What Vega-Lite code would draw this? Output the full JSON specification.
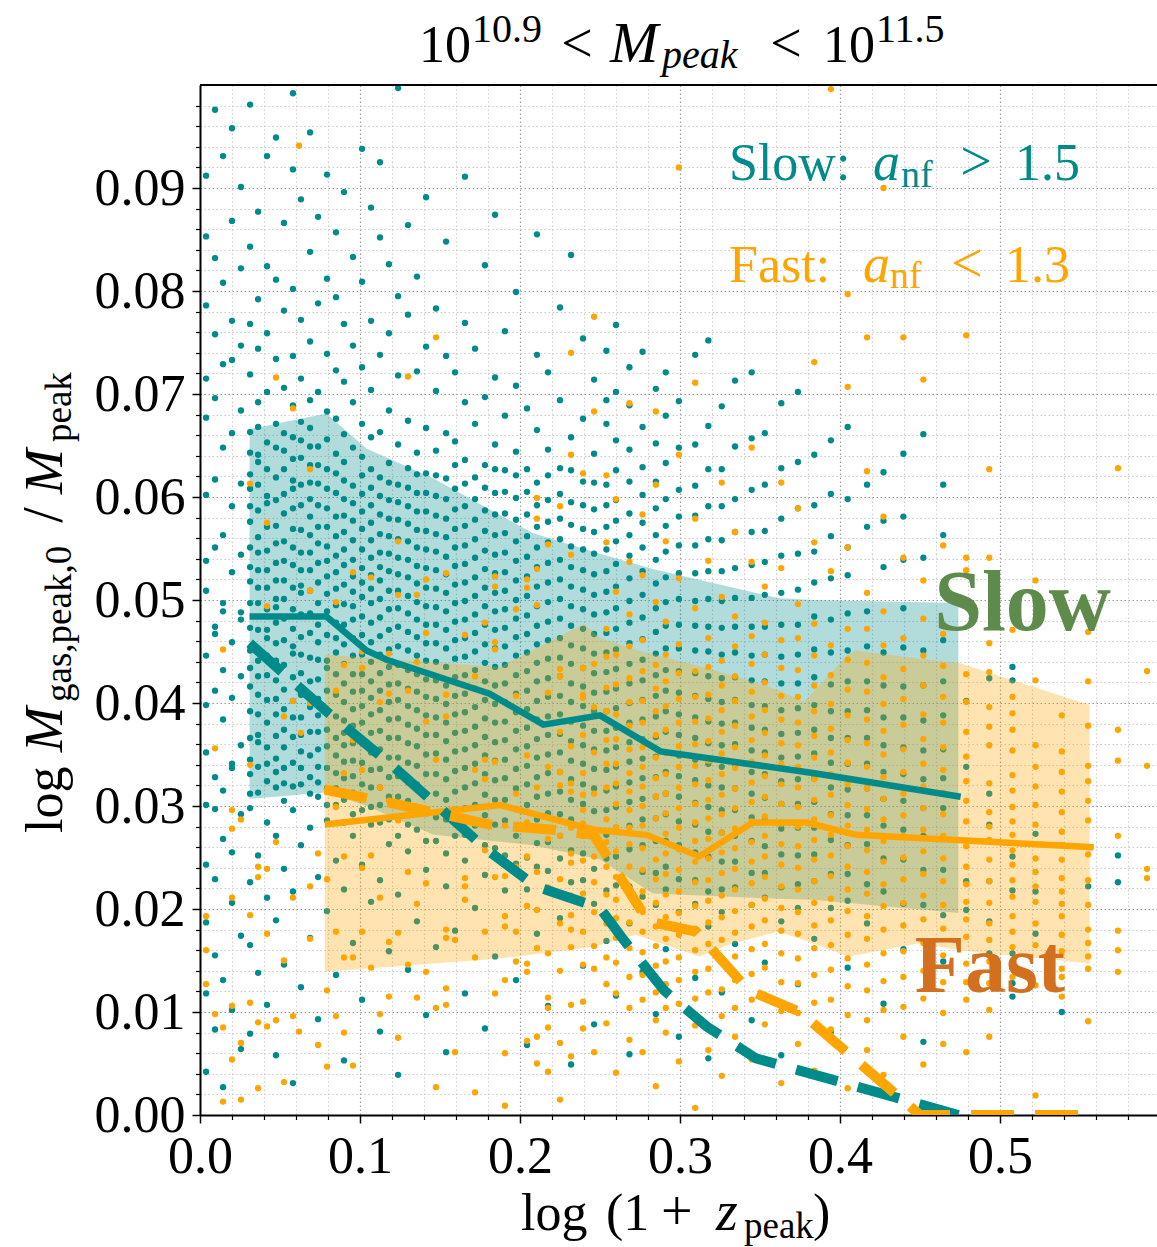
{
"$schema":"https://vega.github.io/schema/vega-lite/v6.json",
"width":957,"height":1030,
"autosize":{"type":"none"},
"padding":{"left":200,"top":85,"right":0,"bottom":132},
"background":"white",
"config":{"view":{"stroke":null},"font":"Liberation Serif"},
"resolve":{"axis":{"x":"independent","y":"independent"}},
"datasets":{
"one":[{}],
"slow":[
{"x":0.0038,"y":0.0042},{"x":0.0038,"y":0.0118},{"x":0.0038,"y":0.0187},{"x":0.0038,"y":0.0243},{"x":0.0038,"y":0.0301},{"x":0.0038,"y":0.0352},{"x":0.0038,"y":0.0398},{"x":0.0038,"y":0.0446},{"x":0.0038,"y":0.0509},{"x":0.0038,"y":0.0538},{"x":0.0038,"y":0.0602},{"x":0.0038,"y":0.0677},{"x":0.0038,"y":0.0715},{"x":0.0038,"y":0.0786},{"x":0.0038,"y":0.0853},{"x":0.0038,"y":0.0912},
{"x":0.0094,"y":0.0083},{"x":0.0094,"y":0.0155},{"x":0.0094,"y":0.0229},{"x":0.0094,"y":0.0297},{"x":0.0094,"y":0.0328},{"x":0.0094,"y":0.0412},{"x":0.0094,"y":0.0467},{"x":0.0094,"y":0.0474},{"x":0.0094,"y":0.0551},{"x":0.0094,"y":0.0617},{"x":0.0094,"y":0.0696},{"x":0.0094,"y":0.0758},{"x":0.0094,"y":0.0832},{"x":0.0094,"y":0.0976},
{"x":0.0144,"y":0.0027},{"x":0.0144,"y":0.0131},{"x":0.0144,"y":0.0268},{"x":0.0144,"y":0.0315},{"x":0.0144,"y":0.0384},{"x":0.0144,"y":0.0432},{"x":0.0144,"y":0.0489},{"x":0.0144,"y":0.0497},{"x":0.0144,"y":0.0563},{"x":0.0144,"y":0.0648},{"x":0.0144,"y":0.0729},{"x":0.0144,"y":0.0808},{"x":0.0144,"y":0.0931},
{"x":0.02,"y":0.0102},{"x":0.02,"y":0.0206},{"x":0.02,"y":0.0255},{"x":0.02,"y":0.0337},{"x":0.02,"y":0.0341},{"x":0.02,"y":0.0405},{"x":0.02,"y":0.0459},{"x":0.02,"y":0.0527},{"x":0.02,"y":0.0591},{"x":0.02,"y":0.0662},{"x":0.02,"y":0.0733},{"x":0.02,"y":0.0771},{"x":0.02,"y":0.0868},{"x":0.02,"y":0.0958},
{"x":0.0256,"y":0.0064},{"x":0.0256,"y":0.0174},{"x":0.0256,"y":0.0292},{"x":0.0256,"y":0.0359},{"x":0.0256,"y":0.0426},{"x":0.0256,"y":0.0481},{"x":0.0256,"y":0.0488},{"x":0.0256,"y":0.0544},{"x":0.0256,"y":0.0613},{"x":0.0256,"y":0.0684},{"x":0.0256,"y":0.0747},{"x":0.0256,"y":0.0822},{"x":0.0256,"y":0.0901},
{"x":0.0313,"y":0.0079},{"x":0.0313,"y":0.0165},{"x":0.0313,"y":0.0226},{"x":0.0313,"y":0.0298},{"x":0.0313,"y":0.0331},{"x":0.0313,"y":0.0345},{"x":0.0313,"y":0.0392},{"x":0.0313,"y":0.0416},{"x":0.0313,"y":0.0451},{"x":0.0313,"y":0.0473},{"x":0.0313,"y":0.0518},{"x":0.0313,"y":0.0532},{"x":0.0313,"y":0.0576},{"x":0.0313,"y":0.0608},{"x":0.0313,"y":0.0622},{"x":0.0313,"y":0.0663},{"x":0.0313,"y":0.0719},{"x":0.0313,"y":0.0768},{"x":0.0313,"y":0.0843},{"x":0.0313,"y":0.0981},
{"x":0.0363,"y":0.0138},{"x":0.0363,"y":0.0252},{"x":0.0363,"y":0.0313},{"x":0.0363,"y":0.0362},{"x":0.0363,"y":0.0369},{"x":0.0363,"y":0.0408},{"x":0.0363,"y":0.0441},{"x":0.0363,"y":0.0449},{"x":0.0363,"y":0.0497},{"x":0.0363,"y":0.0529},{"x":0.0363,"y":0.0561},{"x":0.0363,"y":0.0587},{"x":0.0363,"y":0.0634},{"x":0.0363,"y":0.0641},{"x":0.0363,"y":0.0692},{"x":0.0363,"y":0.0744},{"x":0.0363,"y":0.0792},{"x":0.0363,"y":0.0877},
{"x":0.0419,"y":0.0107},{"x":0.0419,"y":0.0211},{"x":0.0419,"y":0.0284},{"x":0.0419,"y":0.0324},{"x":0.0419,"y":0.0357},{"x":0.0419,"y":0.0381},{"x":0.0419,"y":0.0427},{"x":0.0419,"y":0.0463},{"x":0.0419,"y":0.0471},{"x":0.0419,"y":0.0512},{"x":0.0419,"y":0.0548},{"x":0.0419,"y":0.0594},{"x":0.0419,"y":0.0601},{"x":0.0419,"y":0.0653},{"x":0.0419,"y":0.0702},{"x":0.0419,"y":0.0759},{"x":0.0419,"y":0.0824},{"x":0.0419,"y":0.0931},
{"x":0.0475,"y":0.0058},{"x":0.0475,"y":0.0189},{"x":0.0475,"y":0.0271},{"x":0.0475,"y":0.0318},{"x":0.0475,"y":0.0346},{"x":0.0475,"y":0.0389},{"x":0.0475,"y":0.0422},{"x":0.0475,"y":0.0458},{"x":0.0475,"y":0.0493},{"x":0.0475,"y":0.0501},{"x":0.0475,"y":0.0536},{"x":0.0475,"y":0.0572},{"x":0.0475,"y":0.0619},{"x":0.0475,"y":0.0648},{"x":0.0475,"y":0.0671},{"x":0.0475,"y":0.0734},{"x":0.0475,"y":0.0811},{"x":0.0475,"y":0.0949},
{"x":0.0525,"y":0.0146},{"x":0.0525,"y":0.0239},{"x":0.0525,"y":0.0305},{"x":0.0525,"y":0.0337},{"x":0.0525,"y":0.0374},{"x":0.0525,"y":0.0413},{"x":0.0525,"y":0.0437},{"x":0.0525,"y":0.0482},{"x":0.0525,"y":0.0519},{"x":0.0525,"y":0.0557},{"x":0.0525,"y":0.0584},{"x":0.0525,"y":0.0627},{"x":0.0525,"y":0.0662},{"x":0.0525,"y":0.0706},{"x":0.0525,"y":0.0781},{"x":0.0525,"y":0.0866},
{"x":0.0581,"y":0.0031},{"x":0.0581,"y":0.0217},{"x":0.0581,"y":0.0296},{"x":0.0581,"y":0.0342},{"x":0.0581,"y":0.0367},{"x":0.0581,"y":0.0402},{"x":0.0581,"y":0.0448},{"x":0.0581,"y":0.0455},{"x":0.0581,"y":0.0491},{"x":0.0581,"y":0.0534},{"x":0.0581,"y":0.0569},{"x":0.0581,"y":0.0608},{"x":0.0581,"y":0.0616},{"x":0.0581,"y":0.0658},{"x":0.0581,"y":0.0689},{"x":0.0581,"y":0.0737},{"x":0.0581,"y":0.0802},{"x":0.0581,"y":0.0918},{"x":0.0581,"y":0.0992},
{"x":0.0631,"y":0.0124},{"x":0.0631,"y":0.0262},{"x":0.0631,"y":0.0321},{"x":0.0631,"y":0.0353},{"x":0.0631,"y":0.0386},{"x":0.0631,"y":0.0429},{"x":0.0631,"y":0.0464},{"x":0.0631,"y":0.0507},{"x":0.0631,"y":0.0514},{"x":0.0631,"y":0.0546},{"x":0.0631,"y":0.0592},{"x":0.0631,"y":0.0638},{"x":0.0631,"y":0.0673},{"x":0.0631,"y":0.0715},{"x":0.0631,"y":0.0772},{"x":0.0631,"y":0.0889},
{"x":0.0688,"y":0.0172},{"x":0.0688,"y":0.0279},{"x":0.0688,"y":0.0328},{"x":0.0688,"y":0.0349},{"x":0.0688,"y":0.0396},{"x":0.0688,"y":0.0421},{"x":0.0688,"y":0.0468},{"x":0.0688,"y":0.0487},{"x":0.0688,"y":0.0529},{"x":0.0688,"y":0.0563},{"x":0.0688,"y":0.0598},{"x":0.0688,"y":0.0631},{"x":0.0688,"y":0.0667},{"x":0.0688,"y":0.0694},{"x":0.0688,"y":0.0751},{"x":0.0688,"y":0.0838},{"x":0.0688,"y":0.0954},
{"x":0.0738,"y":0.0093},{"x":0.0738,"y":0.0231},{"x":0.0738,"y":0.0309},{"x":0.0738,"y":0.0338},{"x":0.0738,"y":0.0372},{"x":0.0738,"y":0.0404},{"x":0.0738,"y":0.0442},{"x":0.0738,"y":0.0476},{"x":0.0738,"y":0.0517},{"x":0.0738,"y":0.0555},{"x":0.0738,"y":0.0571},{"x":0.0738,"y":0.0613},{"x":0.0738,"y":0.0649},{"x":0.0738,"y":0.0702},{"x":0.0738,"y":0.0788},{"x":0.0738,"y":0.0872},
{"x":0.0794,"y":0.0198},{"x":0.0794,"y":0.0286},{"x":0.0794,"y":0.0317},{"x":0.0794,"y":0.0358},{"x":0.0794,"y":0.0391},{"x":0.0794,"y":0.0434},{"x":0.0794,"y":0.0441},{"x":0.0794,"y":0.0489},{"x":0.0794,"y":0.0523},{"x":0.0794,"y":0.0552},{"x":0.0794,"y":0.0589},{"x":0.0794,"y":0.0627},{"x":0.0794,"y":0.0656},{"x":0.0794,"y":0.0683},{"x":0.0794,"y":0.0739},{"x":0.0794,"y":0.0812},{"x":0.0794,"y":0.0913},
{"x":0.085,"y":0.0136},{"x":0.085,"y":0.0247},{"x":0.085,"y":0.0301},{"x":0.085,"y":0.0332},{"x":0.085,"y":0.0366},{"x":0.085,"y":0.0408},{"x":0.085,"y":0.0449},{"x":0.085,"y":0.0478},{"x":0.085,"y":0.0511},{"x":0.085,"y":0.0543},{"x":0.085,"y":0.0581},{"x":0.085,"y":0.0604},{"x":0.085,"y":0.0642},{"x":0.085,"y":0.0676},{"x":0.085,"y":0.0723},{"x":0.085,"y":0.0794},{"x":0.085,"y":0.0857},
{"x":0.09,"y":0.0053},{"x":0.09,"y":0.0219},{"x":0.09,"y":0.0284},{"x":0.09,"y":0.0327},{"x":0.09,"y":0.0359},{"x":0.09,"y":0.0383},{"x":0.09,"y":0.0419},{"x":0.09,"y":0.0457},{"x":0.09,"y":0.0496},{"x":0.09,"y":0.0534},{"x":0.09,"y":0.0566},{"x":0.09,"y":0.0598},{"x":0.09,"y":0.0634},{"x":0.09,"y":0.0661},{"x":0.09,"y":0.0712},{"x":0.09,"y":0.0768},{"x":0.09,"y":0.0896},
{"x":0.0956,"y":0.0167},{"x":0.0956,"y":0.0271},{"x":0.0956,"y":0.0313},{"x":0.0956,"y":0.0344},{"x":0.0956,"y":0.0378},{"x":0.0956,"y":0.0411},{"x":0.0956,"y":0.0446},{"x":0.0956,"y":0.0481},{"x":0.0956,"y":0.0508},{"x":0.0956,"y":0.0539},{"x":0.0956,"y":0.0577},{"x":0.0956,"y":0.0611},{"x":0.0956,"y":0.0648},{"x":0.0956,"y":0.0692},{"x":0.0956,"y":0.0747},{"x":0.0956,"y":0.0833},
{"x":0.1013,"y":0.0112},{"x":0.1013,"y":0.0243},{"x":0.1013,"y":0.0296},{"x":0.1013,"y":0.0321},{"x":0.1013,"y":0.0363},{"x":0.1013,"y":0.0397},{"x":0.1013,"y":0.0428},{"x":0.1013,"y":0.0466},{"x":0.1013,"y":0.0503},{"x":0.1013,"y":0.0531},{"x":0.1013,"y":0.0569},{"x":0.1013,"y":0.0603},{"x":0.1013,"y":0.0639},{"x":0.1013,"y":0.0671},{"x":0.1013,"y":0.0726},{"x":0.1013,"y":0.0809},{"x":0.1013,"y":0.0938},
{"x":0.1069,"y":0.0207},{"x":0.1069,"y":0.0282},{"x":0.1069,"y":0.0318},{"x":0.1069,"y":0.0352},{"x":0.1069,"y":0.0389},{"x":0.1069,"y":0.0421},{"x":0.1069,"y":0.0459},{"x":0.1069,"y":0.0497},{"x":0.1069,"y":0.0524},{"x":0.1069,"y":0.0558},{"x":0.1069,"y":0.0592},{"x":0.1069,"y":0.0627},{"x":0.1069,"y":0.0658},{"x":0.1069,"y":0.0704},{"x":0.1069,"y":0.0771},{"x":0.1069,"y":0.0881},
{"x":0.1125,"y":0.0081},{"x":0.1125,"y":0.0228},{"x":0.1125,"y":0.0301},{"x":0.1125,"y":0.0336},{"x":0.1125,"y":0.0373},{"x":0.1125,"y":0.0412},{"x":0.1125,"y":0.0447},{"x":0.1125,"y":0.0483},{"x":0.1125,"y":0.0519},{"x":0.1125,"y":0.0546},{"x":0.1125,"y":0.0583},{"x":0.1125,"y":0.0619},{"x":0.1125,"y":0.0663},{"x":0.1125,"y":0.0738},{"x":0.1125,"y":0.0852},{"x":0.1125,"y":0.0925},
{"x":0.1181,"y":0.0159},{"x":0.1181,"y":0.0263},{"x":0.1181,"y":0.0309},{"x":0.1181,"y":0.0347},{"x":0.1181,"y":0.0384},{"x":0.1181,"y":0.0418},{"x":0.1181,"y":0.0452},{"x":0.1181,"y":0.0491},{"x":0.1181,"y":0.0528},{"x":0.1181,"y":0.0562},{"x":0.1181,"y":0.0597},{"x":0.1181,"y":0.0633},{"x":0.1181,"y":0.0684},{"x":0.1181,"y":0.0759},{"x":0.1181,"y":0.0826},
{"x":0.1238,"y":0.0039},{"x":0.1238,"y":0.0214},{"x":0.1238,"y":0.0288},{"x":0.1238,"y":0.0329},{"x":0.1238,"y":0.0366},{"x":0.1238,"y":0.0403},{"x":0.1238,"y":0.0437},{"x":0.1238,"y":0.0474},{"x":0.1238,"y":0.0509},{"x":0.1238,"y":0.0541},{"x":0.1238,"y":0.0578},{"x":0.1238,"y":0.0612},{"x":0.1238,"y":0.0651},{"x":0.1238,"y":0.0718},{"x":0.1238,"y":0.0795},{"x":0.1238,"y":0.0997},
{"x":0.13,"y":0.0141},{"x":0.13,"y":0.0256},{"x":0.13,"y":0.0305},{"x":0.13,"y":0.0342},{"x":0.13,"y":0.0379},{"x":0.13,"y":0.0414},{"x":0.13,"y":0.0451},{"x":0.13,"y":0.0487},{"x":0.13,"y":0.0522},{"x":0.13,"y":0.0557},{"x":0.13,"y":0.0591},{"x":0.13,"y":0.0628},{"x":0.13,"y":0.0674},{"x":0.13,"y":0.0777},{"x":0.13,"y":0.0864},
{"x":0.1356,"y":0.0188},{"x":0.1356,"y":0.0277},{"x":0.1356,"y":0.0321},{"x":0.1356,"y":0.0358},{"x":0.1356,"y":0.0393},{"x":0.1356,"y":0.0428},{"x":0.1356,"y":0.0464},{"x":0.1356,"y":0.0498},{"x":0.1356,"y":0.0533},{"x":0.1356,"y":0.0568},{"x":0.1356,"y":0.0604},{"x":0.1356,"y":0.0643},{"x":0.1356,"y":0.0722},{"x":0.1356,"y":0.0814},
{"x":0.1413,"y":0.0097},{"x":0.1413,"y":0.0238},{"x":0.1413,"y":0.0293},{"x":0.1413,"y":0.0331},{"x":0.1413,"y":0.0369},{"x":0.1413,"y":0.0406},{"x":0.1413,"y":0.0441},{"x":0.1413,"y":0.0476},{"x":0.1413,"y":0.0512},{"x":0.1413,"y":0.0549},{"x":0.1413,"y":0.0586},{"x":0.1413,"y":0.0623},{"x":0.1413,"y":0.0667},{"x":0.1413,"y":0.0746},{"x":0.1413,"y":0.0891},
{"x":0.1475,"y":0.0163},{"x":0.1475,"y":0.0266},{"x":0.1475,"y":0.0312},{"x":0.1475,"y":0.0351},{"x":0.1475,"y":0.0386},{"x":0.1475,"y":0.0422},{"x":0.1475,"y":0.0458},{"x":0.1475,"y":0.0493},{"x":0.1475,"y":0.0529},{"x":0.1475,"y":0.0564},{"x":0.1475,"y":0.0601},{"x":0.1475,"y":0.0645},{"x":0.1475,"y":0.0703},{"x":0.1475,"y":0.0783},
{"x":0.1538,"y":0.0061},{"x":0.1538,"y":0.0222},{"x":0.1538,"y":0.0287},{"x":0.1538,"y":0.0326},{"x":0.1538,"y":0.0363},{"x":0.1538,"y":0.0399},{"x":0.1538,"y":0.0435},{"x":0.1538,"y":0.0471},{"x":0.1538,"y":0.0507},{"x":0.1538,"y":0.0542},{"x":0.1538,"y":0.0579},{"x":0.1538,"y":0.0618},{"x":0.1538,"y":0.0662},{"x":0.1538,"y":0.0737},{"x":0.1538,"y":0.0848},
{"x":0.1594,"y":0.0179},{"x":0.1594,"y":0.0271},{"x":0.1594,"y":0.0314},{"x":0.1594,"y":0.0353},{"x":0.1594,"y":0.0389},{"x":0.1594,"y":0.0425},{"x":0.1594,"y":0.0461},{"x":0.1594,"y":0.0497},{"x":0.1594,"y":0.0533},{"x":0.1594,"y":0.0569},{"x":0.1594,"y":0.0608},{"x":0.1594,"y":0.0654},{"x":0.1594,"y":0.0721},
{"x":0.1656,"y":0.0118},{"x":0.1656,"y":0.0247},{"x":0.1656,"y":0.0298},{"x":0.1656,"y":0.0337},{"x":0.1656,"y":0.0373},{"x":0.1656,"y":0.0409},{"x":0.1656,"y":0.0445},{"x":0.1656,"y":0.0481},{"x":0.1656,"y":0.0517},{"x":0.1656,"y":0.0553},{"x":0.1656,"y":0.0591},{"x":0.1656,"y":0.0636},{"x":0.1656,"y":0.0692},{"x":0.1656,"y":0.0769},{"x":0.1656,"y":0.0911},
{"x":0.1719,"y":0.0201},{"x":0.1719,"y":0.0281},{"x":0.1719,"y":0.0322},{"x":0.1719,"y":0.0359},{"x":0.1719,"y":0.0396},{"x":0.1719,"y":0.0432},{"x":0.1719,"y":0.0468},{"x":0.1719,"y":0.0504},{"x":0.1719,"y":0.0541},{"x":0.1719,"y":0.0578},{"x":0.1719,"y":0.0619},{"x":0.1719,"y":0.0671},{"x":0.1719,"y":0.0744},
{"x":0.1781,"y":0.0084},{"x":0.1781,"y":0.0233},{"x":0.1781,"y":0.0291},{"x":0.1781,"y":0.0331},{"x":0.1781,"y":0.0367},{"x":0.1781,"y":0.0403},{"x":0.1781,"y":0.0439},{"x":0.1781,"y":0.0476},{"x":0.1781,"y":0.0512},{"x":0.1781,"y":0.0548},{"x":0.1781,"y":0.0587},{"x":0.1781,"y":0.0631},{"x":0.1781,"y":0.0697},{"x":0.1781,"y":0.0825},
{"x":0.1844,"y":0.0154},{"x":0.1844,"y":0.0259},{"x":0.1844,"y":0.0306},{"x":0.1844,"y":0.0344},{"x":0.1844,"y":0.0381},{"x":0.1844,"y":0.0417},{"x":0.1844,"y":0.0453},{"x":0.1844,"y":0.0489},{"x":0.1844,"y":0.0526},{"x":0.1844,"y":0.0563},{"x":0.1844,"y":0.0604},{"x":0.1844,"y":0.0651},{"x":0.1844,"y":0.0716},{"x":0.1844,"y":0.0874},
{"x":0.1906,"y":0.0218},{"x":0.1906,"y":0.0286},{"x":0.1906,"y":0.0327},{"x":0.1906,"y":0.0364},{"x":0.1906,"y":0.0401},{"x":0.1906,"y":0.0437},{"x":0.1906,"y":0.0473},{"x":0.1906,"y":0.0509},{"x":0.1906,"y":0.0546},{"x":0.1906,"y":0.0584},{"x":0.1906,"y":0.0626},{"x":0.1906,"y":0.0679},{"x":0.1906,"y":0.0761},
{"x":0.1975,"y":0.0131},{"x":0.1975,"y":0.0244},{"x":0.1975,"y":0.0297},{"x":0.1975,"y":0.0336},{"x":0.1975,"y":0.0373},{"x":0.1975,"y":0.0409},{"x":0.1975,"y":0.0446},{"x":0.1975,"y":0.0482},{"x":0.1975,"y":0.0519},{"x":0.1975,"y":0.0557},{"x":0.1975,"y":0.0599},{"x":0.1975,"y":0.0644},{"x":0.1975,"y":0.0708},{"x":0.1975,"y":0.0799},
{"x":0.2044,"y":0.0068},{"x":0.2044,"y":0.0219},{"x":0.2044,"y":0.0281},{"x":0.2044,"y":0.0321},{"x":0.2044,"y":0.0358},{"x":0.2044,"y":0.0394},{"x":0.2044,"y":0.0431},{"x":0.2044,"y":0.0467},{"x":0.2044,"y":0.0504},{"x":0.2044,"y":0.0542},{"x":0.2044,"y":0.0583},{"x":0.2044,"y":0.0627},{"x":0.2044,"y":0.0686},
{"x":0.2106,"y":0.0176},{"x":0.2106,"y":0.0264},{"x":0.2106,"y":0.0309},{"x":0.2106,"y":0.0347},{"x":0.2106,"y":0.0384},{"x":0.2106,"y":0.0421},{"x":0.2106,"y":0.0457},{"x":0.2106,"y":0.0494},{"x":0.2106,"y":0.0532},{"x":0.2106,"y":0.0571},{"x":0.2106,"y":0.0614},{"x":0.2106,"y":0.0665},{"x":0.2106,"y":0.0738},{"x":0.2106,"y":0.0855},
{"x":0.2175,"y":0.0106},{"x":0.2175,"y":0.0237},{"x":0.2175,"y":0.0293},{"x":0.2175,"y":0.0332},{"x":0.2175,"y":0.0369},{"x":0.2175,"y":0.0406},{"x":0.2175,"y":0.0443},{"x":0.2175,"y":0.0479},{"x":0.2175,"y":0.0517},{"x":0.2175,"y":0.0556},{"x":0.2175,"y":0.0597},{"x":0.2175,"y":0.0646},{"x":0.2175,"y":0.0721},
{"x":0.225,"y":0.0191},{"x":0.225,"y":0.0271},{"x":0.225,"y":0.0314},{"x":0.225,"y":0.0352},{"x":0.225,"y":0.0389},{"x":0.225,"y":0.0426},{"x":0.225,"y":0.0463},{"x":0.225,"y":0.0501},{"x":0.225,"y":0.0539},{"x":0.225,"y":0.0579},{"x":0.225,"y":0.0628},{"x":0.225,"y":0.0694},{"x":0.225,"y":0.0784},
{"x":0.2319,"y":0.0049},{"x":0.2319,"y":0.0226},{"x":0.2319,"y":0.0287},{"x":0.2319,"y":0.0326},{"x":0.2319,"y":0.0363},{"x":0.2319,"y":0.0401},{"x":0.2319,"y":0.0438},{"x":0.2319,"y":0.0475},{"x":0.2319,"y":0.0513},{"x":0.2319,"y":0.0552},{"x":0.2319,"y":0.0595},{"x":0.2319,"y":0.0658},{"x":0.2319,"y":0.0835},
{"x":0.2394,"y":0.0145},{"x":0.2394,"y":0.0254},{"x":0.2394,"y":0.0302},{"x":0.2394,"y":0.0341},{"x":0.2394,"y":0.0378},{"x":0.2394,"y":0.0416},{"x":0.2394,"y":0.0453},{"x":0.2394,"y":0.0491},{"x":0.2394,"y":0.0529},{"x":0.2394,"y":0.0569},{"x":0.2394,"y":0.0615},{"x":0.2394,"y":0.0676},{"x":0.2394,"y":0.0754},
{"x":0.2463,"y":0.0088},{"x":0.2463,"y":0.0205},{"x":0.2463,"y":0.0273},{"x":0.2463,"y":0.0317},{"x":0.2463,"y":0.0355},{"x":0.2463,"y":0.0392},{"x":0.2463,"y":0.0429},{"x":0.2463,"y":0.0467},{"x":0.2463,"y":0.0505},{"x":0.2463,"y":0.0545},{"x":0.2463,"y":0.0588},{"x":0.2463,"y":0.0642},{"x":0.2463,"y":0.0714},
{"x":0.254,"y":0.0169},{"x":0.254,"y":0.0249},{"x":0.254,"y":0.0296},{"x":0.254,"y":0.0335},{"x":0.254,"y":0.0373},{"x":0.254,"y":0.0411},{"x":0.254,"y":0.0449},{"x":0.254,"y":0.0488},{"x":0.254,"y":0.0528},{"x":0.254,"y":0.0571},{"x":0.254,"y":0.0612},{"x":0.254,"y":0.0671},{"x":0.254,"y":0.0694},{"x":0.254,"y":0.0742},
{"x":0.26,"y":0.0116},{"x":0.26,"y":0.0223},{"x":0.26,"y":0.0279},{"x":0.26,"y":0.0319},{"x":0.26,"y":0.0357},{"x":0.26,"y":0.0395},{"x":0.26,"y":0.0433},{"x":0.26,"y":0.0472},{"x":0.26,"y":0.0513},{"x":0.26,"y":0.0557},{"x":0.26,"y":0.0597},{"x":0.26,"y":0.0655},{"x":0.26,"y":0.0702},{"x":0.26,"y":0.0767},
{"x":0.2684,"y":0.0059},{"x":0.2684,"y":0.0186},{"x":0.2684,"y":0.0258},{"x":0.2684,"y":0.0304},{"x":0.2684,"y":0.0343},{"x":0.2684,"y":0.0381},{"x":0.2684,"y":0.0419},{"x":0.2684,"y":0.0458},{"x":0.2684,"y":0.0499},{"x":0.2684,"y":0.0543},{"x":0.2684,"y":0.0584},{"x":0.2684,"y":0.0646},{"x":0.2684,"y":0.0689},{"x":0.2684,"y":0.0726},
{"x":0.2766,"y":0.0139},{"x":0.2766,"y":0.0236},{"x":0.2766,"y":0.0287},{"x":0.2766,"y":0.0327},{"x":0.2766,"y":0.0365},{"x":0.2766,"y":0.0403},{"x":0.2766,"y":0.0442},{"x":0.2766,"y":0.0483},{"x":0.2766,"y":0.0528},{"x":0.2766,"y":0.0575},{"x":0.2766,"y":0.0629},{"x":0.2766,"y":0.0668},{"x":0.2766,"y":0.0741},
{"x":0.2849,"y":0.0098},{"x":0.2849,"y":0.0204},{"x":0.2849,"y":0.0266},{"x":0.2849,"y":0.0309},{"x":0.2849,"y":0.0348},{"x":0.2849,"y":0.0387},{"x":0.2849,"y":0.0427},{"x":0.2849,"y":0.0469},{"x":0.2849,"y":0.0516},{"x":0.2849,"y":0.0563},{"x":0.2849,"y":0.0615},{"x":0.2849,"y":0.0652},{"x":0.2849,"y":0.0705},
{"x":0.2911,"y":0.0161},{"x":0.2911,"y":0.0241},{"x":0.2911,"y":0.0292},{"x":0.2911,"y":0.0333},{"x":0.2911,"y":0.0372},{"x":0.2911,"y":0.0412},{"x":0.2911,"y":0.0453},{"x":0.2911,"y":0.0498},{"x":0.2911,"y":0.0547},{"x":0.2911,"y":0.0598},{"x":0.2911,"y":0.0633},{"x":0.2911,"y":0.0679},{"x":0.2911,"y":0.0721},
{"x":0.2993,"y":0.0076},{"x":0.2993,"y":0.0197},{"x":0.2993,"y":0.0262},{"x":0.2993,"y":0.0309},{"x":0.2993,"y":0.0349},{"x":0.2993,"y":0.0389},{"x":0.2993,"y":0.0431},{"x":0.2993,"y":0.0476},{"x":0.2993,"y":0.0526},{"x":0.2993,"y":0.0581},{"x":0.2993,"y":0.0607},{"x":0.2993,"y":0.0648},{"x":0.2993,"y":0.0693},
{"x":0.3095,"y":0.0133},{"x":0.3095,"y":0.0228},{"x":0.3095,"y":0.0282},{"x":0.3095,"y":0.0325},{"x":0.3095,"y":0.0366},{"x":0.3095,"y":0.0407},{"x":0.3095,"y":0.0451},{"x":0.3095,"y":0.0499},{"x":0.3095,"y":0.0553},{"x":0.3095,"y":0.0611},{"x":0.3095,"y":0.0651},{"x":0.3095,"y":0.0738},
{"x":0.3177,"y":0.0055},{"x":0.3177,"y":0.0183},{"x":0.3177,"y":0.0251},{"x":0.3177,"y":0.0299},{"x":0.3177,"y":0.0341},{"x":0.3177,"y":0.0382},{"x":0.3177,"y":0.0426},{"x":0.3177,"y":0.0474},{"x":0.3177,"y":0.0528},{"x":0.3177,"y":0.0591},{"x":0.3177,"y":0.0627},{"x":0.3177,"y":0.0669},{"x":0.3177,"y":0.0752},
{"x":0.3261,"y":0.0119},{"x":0.3261,"y":0.0219},{"x":0.3261,"y":0.0274},{"x":0.3261,"y":0.0318},{"x":0.3261,"y":0.0359},{"x":0.3261,"y":0.0401},{"x":0.3261,"y":0.0447},{"x":0.3261,"y":0.0499},{"x":0.3261,"y":0.0558},{"x":0.3261,"y":0.0591},{"x":0.3261,"y":0.0627},{"x":0.3261,"y":0.0688},
{"x":0.3344,"y":0.0166},{"x":0.3344,"y":0.0246},{"x":0.3344,"y":0.0296},{"x":0.3344,"y":0.0339},{"x":0.3344,"y":0.0381},{"x":0.3344,"y":0.0425},{"x":0.3344,"y":0.0474},{"x":0.3344,"y":0.0531},{"x":0.3344,"y":0.0566},{"x":0.3344,"y":0.0598},{"x":0.3344,"y":0.0649},{"x":0.3344,"y":0.0713},
{"x":0.3448,"y":0.0092},{"x":0.3448,"y":0.0204},{"x":0.3448,"y":0.0266},{"x":0.3448,"y":0.0312},{"x":0.3448,"y":0.0354},{"x":0.3448,"y":0.0398},{"x":0.3448,"y":0.0446},{"x":0.3448,"y":0.0502},{"x":0.3448,"y":0.0566},{"x":0.3448,"y":0.0607},{"x":0.3448,"y":0.0657},{"x":0.3448,"y":0.0721},
{"x":0.353,"y":0.0148},{"x":0.353,"y":0.0235},{"x":0.353,"y":0.0286},{"x":0.353,"y":0.0331},{"x":0.353,"y":0.0374},{"x":0.353,"y":0.0421},{"x":0.353,"y":0.0474},{"x":0.353,"y":0.0537},{"x":0.353,"y":0.0567},{"x":0.353,"y":0.0612},{"x":0.353,"y":0.0662},
{"x":0.3633,"y":0.0058},{"x":0.3633,"y":0.0188},{"x":0.3633,"y":0.0253},{"x":0.3633,"y":0.0302},{"x":0.3633,"y":0.0347},{"x":0.3633,"y":0.0393},{"x":0.3633,"y":0.0445},{"x":0.3633,"y":0.0507},{"x":0.3633,"y":0.0579},{"x":0.3633,"y":0.0628},{"x":0.3633,"y":0.0691},
{"x":0.3737,"y":0.0127},{"x":0.3737,"y":0.0224},{"x":0.3737,"y":0.0279},{"x":0.3737,"y":0.0326},{"x":0.3737,"y":0.0371},{"x":0.3737,"y":0.0419},{"x":0.3737,"y":0.0476},{"x":0.3737,"y":0.0545},{"x":0.3737,"y":0.0589},{"x":0.3737,"y":0.0634},{"x":0.3737,"y":0.0702},
{"x":0.3839,"y":0.0171},{"x":0.3839,"y":0.0253},{"x":0.3839,"y":0.0304},{"x":0.3839,"y":0.0351},{"x":0.3839,"y":0.0398},{"x":0.3839,"y":0.0452},{"x":0.3839,"y":0.0517},{"x":0.3839,"y":0.0547},{"x":0.3839,"y":0.0592},{"x":0.3839,"y":0.0641},
{"x":0.3943,"y":0.0081},{"x":0.3943,"y":0.0201},{"x":0.3943,"y":0.0267},{"x":0.3943,"y":0.0318},{"x":0.3943,"y":0.0366},{"x":0.3943,"y":0.0418},{"x":0.3943,"y":0.0481},{"x":0.3943,"y":0.0562},{"x":0.3943,"y":0.0603},{"x":0.3943,"y":0.0655},
{"x":0.4048,"y":0.0143},{"x":0.4048,"y":0.0234},{"x":0.4048,"y":0.0291},{"x":0.4048,"y":0.0341},{"x":0.4048,"y":0.0392},{"x":0.4048,"y":0.0451},{"x":0.4048,"y":0.0524},{"x":0.4048,"y":0.0551},{"x":0.4048,"y":0.0598},{"x":0.4048,"y":0.0668},
{"x":0.4169,"y":0.0186},{"x":0.4169,"y":0.0263},{"x":0.4169,"y":0.0317},{"x":0.4169,"y":0.0366},{"x":0.4169,"y":0.0421},{"x":0.4169,"y":0.0489},{"x":0.4169,"y":0.0571},{"x":0.4169,"y":0.0612},
{"x":0.4272,"y":0.0108},{"x":0.4272,"y":0.0217},{"x":0.4272,"y":0.0281},{"x":0.4272,"y":0.0333},{"x":0.4272,"y":0.0386},{"x":0.4272,"y":0.0449},{"x":0.4272,"y":0.0532},{"x":0.4272,"y":0.0577},{"x":0.4272,"y":0.0624},
{"x":0.4396,"y":0.0161},{"x":0.4396,"y":0.0248},{"x":0.4396,"y":0.0305},{"x":0.4396,"y":0.0357},{"x":0.4396,"y":0.0416},{"x":0.4396,"y":0.0492},{"x":0.4396,"y":0.0539},{"x":0.4396,"y":0.0581},{"x":0.4396,"y":0.0642},
{"x":0.4521,"y":0.0071},{"x":0.4521,"y":0.0204},{"x":0.4521,"y":0.0271},{"x":0.4521,"y":0.0326},{"x":0.4521,"y":0.0383},{"x":0.4521,"y":0.0451},{"x":0.4521,"y":0.0541},{"x":0.4521,"y":0.0661},
{"x":0.4645,"y":0.0149},{"x":0.4645,"y":0.0238},{"x":0.4645,"y":0.0298},{"x":0.4645,"y":0.0355},{"x":0.4645,"y":0.0421},{"x":0.4645,"y":0.0506},{"x":0.4645,"y":0.0563},{"x":0.4645,"y":0.0612},
{"x":0.4789,"y":0.0338},{"x":0.4789,"y":0.0227},{"x":0.4789,"y":0.0199},{"x":0.4789,"y":0.0402},
{"x":0.4933,"y":0.0312},{"x":0.4933,"y":0.0282},{"x":0.4933,"y":0.0227},{"x":0.4933,"y":0.0188},{"x":0.4933,"y":0.0157},{"x":0.4933,"y":0.0424},
{"x":0.5078,"y":0.0251},{"x":0.5078,"y":0.0218},{"x":0.5078,"y":0.0157},{"x":0.5078,"y":0.0128},{"x":0.5078,"y":0.0115},{"x":0.5078,"y":0.0435},{"x":0.5078,"y":0.0422},
{"x":0.5222,"y":0.0273},{"x":0.5222,"y":0.0217},{"x":0.5222,"y":0.0176},
{"x":0.5386,"y":0.01},{"x":0.5551,"y":0.0222},{"x":0.5737,"y":0.0252},{"x":0.5737,"y":0.0226},
{"x":0.0313,"y":0.0312},{"x":0.0313,"y":0.0366},{"x":0.0313,"y":0.0434},{"x":0.0313,"y":0.0497},{"x":0.0313,"y":0.0551},{"x":0.0313,"y":0.0591},{"x":0.0313,"y":0.0643},
{"x":0.0363,"y":0.0338},{"x":0.0363,"y":0.0389},{"x":0.0363,"y":0.0426},{"x":0.0363,"y":0.0471},{"x":0.0363,"y":0.0512},{"x":0.0363,"y":0.0546},{"x":0.0363,"y":0.0612},{"x":0.0363,"y":0.0668},
{"x":0.0419,"y":0.0341},{"x":0.0419,"y":0.0403},{"x":0.0419,"y":0.0446},{"x":0.0419,"y":0.0491},{"x":0.0419,"y":0.0529},{"x":0.0419,"y":0.0571},{"x":0.0419,"y":0.0627},
{"x":0.0475,"y":0.0333},{"x":0.0475,"y":0.0368},{"x":0.0475,"y":0.0404},{"x":0.0475,"y":0.0441},{"x":0.0475,"y":0.0478},{"x":0.0475,"y":0.0519},{"x":0.0475,"y":0.0555},{"x":0.0475,"y":0.0597},
{"x":0.0525,"y":0.0322},{"x":0.0525,"y":0.0357},{"x":0.0525,"y":0.0394},{"x":0.0525,"y":0.0461},{"x":0.0525,"y":0.0501},{"x":0.0525,"y":0.0538},{"x":0.0525,"y":0.0603},{"x":0.0525,"y":0.0645},
{"x":0.0581,"y":0.0319},{"x":0.0581,"y":0.0386},{"x":0.0581,"y":0.0425},{"x":0.0581,"y":0.0472},{"x":0.0581,"y":0.0512},{"x":0.0581,"y":0.0551},{"x":0.0581,"y":0.0589},{"x":0.0581,"y":0.0637},
{"x":0.0631,"y":0.0337},{"x":0.0631,"y":0.0369},{"x":0.0631,"y":0.0408},{"x":0.0631,"y":0.0447},{"x":0.0631,"y":0.0486},{"x":0.0631,"y":0.0529},{"x":0.0631,"y":0.0568},{"x":0.0631,"y":0.0612},{"x":0.0631,"y":0.0655},
{"x":0.0688,"y":0.0312},{"x":0.0688,"y":0.0372},{"x":0.0688,"y":0.0444},{"x":0.0688,"y":0.0509},{"x":0.0688,"y":0.0546},{"x":0.0688,"y":0.0581},{"x":0.0688,"y":0.0614},{"x":0.0688,"y":0.0649},
{"x":0.0738,"y":0.0323},{"x":0.0738,"y":0.0355},{"x":0.0738,"y":0.0388},{"x":0.0738,"y":0.0423},{"x":0.0738,"y":0.0459},{"x":0.0738,"y":0.0497},{"x":0.0738,"y":0.0536},{"x":0.0738,"y":0.0592},{"x":0.0738,"y":0.0631},
{"x":0.0794,"y":0.0301},{"x":0.0794,"y":0.0337},{"x":0.0794,"y":0.0374},{"x":0.0794,"y":0.0412},{"x":0.0794,"y":0.0466},{"x":0.0794,"y":0.0506},{"x":0.0794,"y":0.0538},{"x":0.0794,"y":0.0571},{"x":0.0794,"y":0.0608},
{"x":0.085,"y":0.0317},{"x":0.085,"y":0.0349},{"x":0.085,"y":0.0387},{"x":0.085,"y":0.0428},{"x":0.085,"y":0.0463},{"x":0.085,"y":0.0495},{"x":0.085,"y":0.0527},{"x":0.085,"y":0.0562},{"x":0.085,"y":0.0623},
{"x":0.09,"y":0.0306},{"x":0.09,"y":0.0343},{"x":0.09,"y":0.0371},{"x":0.09,"y":0.0401},{"x":0.09,"y":0.0438},{"x":0.09,"y":0.0476},{"x":0.09,"y":0.0515},{"x":0.09,"y":0.0549},{"x":0.09,"y":0.0582},{"x":0.09,"y":0.0616},
{"x":0.0956,"y":0.0292},{"x":0.0956,"y":0.0329},{"x":0.0956,"y":0.0361},{"x":0.0956,"y":0.0394},{"x":0.0956,"y":0.0428},{"x":0.0956,"y":0.0463},{"x":0.0956,"y":0.0494},{"x":0.0956,"y":0.0523},{"x":0.0956,"y":0.0558},{"x":0.0956,"y":0.0594},
{"x":0.1013,"y":0.0309},{"x":0.1013,"y":0.0342},{"x":0.1013,"y":0.0381},{"x":0.1013,"y":0.0412},{"x":0.1013,"y":0.0447},{"x":0.1013,"y":0.0484},{"x":0.1013,"y":0.0517},{"x":0.1013,"y":0.0549},{"x":0.1013,"y":0.0586},{"x":0.1013,"y":0.0621},
{"x":0.1069,"y":0.0299},{"x":0.1069,"y":0.0335},{"x":0.1069,"y":0.0371},{"x":0.1069,"y":0.0405},{"x":0.1069,"y":0.044},{"x":0.1069,"y":0.0478},{"x":0.1069,"y":0.0511},{"x":0.1069,"y":0.0541},{"x":0.1069,"y":0.0575},{"x":0.1069,"y":0.0609},
{"x":0.1125,"y":0.0284},{"x":0.1125,"y":0.0318},{"x":0.1125,"y":0.0355},{"x":0.1125,"y":0.0393},{"x":0.1125,"y":0.0429},{"x":0.1125,"y":0.0465},{"x":0.1125,"y":0.0501},{"x":0.1125,"y":0.0532},{"x":0.1125,"y":0.0564},{"x":0.1125,"y":0.0601},
{"x":0.1181,"y":0.0287},{"x":0.1181,"y":0.0328},{"x":0.1181,"y":0.0366},{"x":0.1181,"y":0.0401},{"x":0.1181,"y":0.0435},{"x":0.1181,"y":0.0471},{"x":0.1181,"y":0.0509},{"x":0.1181,"y":0.0545},{"x":0.1181,"y":0.0579},{"x":0.1181,"y":0.0614},
{"x":0.1238,"y":0.0271},{"x":0.1238,"y":0.0309},{"x":0.1238,"y":0.0347},{"x":0.1238,"y":0.0385},{"x":0.1238,"y":0.0419},{"x":0.1238,"y":0.0455},{"x":0.1238,"y":0.0492},{"x":0.1238,"y":0.0525},{"x":0.1238,"y":0.0559},{"x":0.1238,"y":0.0595},
{"x":0.13,"y":0.0282},{"x":0.13,"y":0.0323},{"x":0.13,"y":0.0361},{"x":0.13,"y":0.0397},{"x":0.13,"y":0.0432},{"x":0.13,"y":0.0469},{"x":0.13,"y":0.0504},{"x":0.13,"y":0.0539},{"x":0.13,"y":0.0574},{"x":0.13,"y":0.0609},
{"x":0.1356,"y":0.0299},{"x":0.1356,"y":0.0339},{"x":0.1356,"y":0.0375},{"x":0.1356,"y":0.0411},{"x":0.1356,"y":0.0446},{"x":0.1356,"y":0.0481},{"x":0.1356,"y":0.0516},{"x":0.1356,"y":0.0551},{"x":0.1356,"y":0.0586},{"x":0.1356,"y":0.0622},
{"x":0.1413,"y":0.0266},{"x":0.1413,"y":0.0312},{"x":0.1413,"y":0.035},{"x":0.1413,"y":0.0388},{"x":0.1413,"y":0.0423},{"x":0.1413,"y":0.0458},{"x":0.1413,"y":0.0494},{"x":0.1413,"y":0.0531},{"x":0.1413,"y":0.0567},{"x":0.1413,"y":0.0604},
{"x":0.1475,"y":0.0289},{"x":0.1475,"y":0.0331},{"x":0.1475,"y":0.0369},{"x":0.1475,"y":0.0404},{"x":0.1475,"y":0.044},{"x":0.1475,"y":0.0476},{"x":0.1475,"y":0.0511},{"x":0.1475,"y":0.0547},{"x":0.1475,"y":0.0582},{"x":0.1475,"y":0.0621},
{"x":0.1538,"y":0.0254},{"x":0.1538,"y":0.0306},{"x":0.1538,"y":0.0345},{"x":0.1538,"y":0.0381},{"x":0.1538,"y":0.0417},{"x":0.1538,"y":0.0453},{"x":0.1538,"y":0.0489},{"x":0.1538,"y":0.0525},{"x":0.1538,"y":0.0561},{"x":0.1538,"y":0.0598},
{"x":0.1594,"y":0.0293},{"x":0.1594,"y":0.0334},{"x":0.1594,"y":0.0371},{"x":0.1594,"y":0.0407},{"x":0.1594,"y":0.0443},{"x":0.1594,"y":0.0479},{"x":0.1594,"y":0.0515},{"x":0.1594,"y":0.0551},{"x":0.1594,"y":0.0588},{"x":0.1594,"y":0.0631},
{"x":0.1656,"y":0.0272},{"x":0.1656,"y":0.0318},{"x":0.1656,"y":0.0355},{"x":0.1656,"y":0.0391},{"x":0.1656,"y":0.0427},{"x":0.1656,"y":0.0463},{"x":0.1656,"y":0.0499},{"x":0.1656,"y":0.0535},{"x":0.1656,"y":0.0572},{"x":0.1656,"y":0.0613},
{"x":0.1719,"y":0.0301},{"x":0.1719,"y":0.0341},{"x":0.1719,"y":0.0377},{"x":0.1719,"y":0.0414},{"x":0.1719,"y":0.045},{"x":0.1719,"y":0.0486},{"x":0.1719,"y":0.0522},{"x":0.1719,"y":0.0559},{"x":0.1719,"y":0.0598},
{"x":0.1781,"y":0.0262},{"x":0.1781,"y":0.0311},{"x":0.1781,"y":0.0349},{"x":0.1781,"y":0.0385},{"x":0.1781,"y":0.0421},{"x":0.1781,"y":0.0457},{"x":0.1781,"y":0.0494},{"x":0.1781,"y":0.053},{"x":0.1781,"y":0.0567},{"x":0.1781,"y":0.0609},
{"x":0.1844,"y":0.0282},{"x":0.1844,"y":0.0325},{"x":0.1844,"y":0.0362},{"x":0.1844,"y":0.0399},{"x":0.1844,"y":0.0435},{"x":0.1844,"y":0.0471},{"x":0.1844,"y":0.0507},{"x":0.1844,"y":0.0544},{"x":0.1844,"y":0.0583},{"x":0.1844,"y":0.0627},
{"x":0.1906,"y":0.0252},{"x":0.1906,"y":0.0306},{"x":0.1906,"y":0.0345},{"x":0.1906,"y":0.0382},{"x":0.1906,"y":0.0419},{"x":0.1906,"y":0.0455},{"x":0.1906,"y":0.0491},{"x":0.1906,"y":0.0527},{"x":0.1906,"y":0.0565},{"x":0.1906,"y":0.0605},
{"x":0.1975,"y":0.0271},{"x":0.1975,"y":0.0317},{"x":0.1975,"y":0.0355},{"x":0.1975,"y":0.0391},{"x":0.1975,"y":0.0427},{"x":0.1975,"y":0.0464},{"x":0.1975,"y":0.05},{"x":0.1975,"y":0.0538},{"x":0.1975,"y":0.0578},{"x":0.1975,"y":0.0621},
{"x":0.2044,"y":0.025},{"x":0.2044,"y":0.0301},{"x":0.2044,"y":0.0339},{"x":0.2044,"y":0.0376},{"x":0.2044,"y":0.0412},{"x":0.2044,"y":0.0449},{"x":0.2044,"y":0.0485},{"x":0.2044,"y":0.0523},{"x":0.2044,"y":0.0562},{"x":0.2044,"y":0.0605},
{"x":0.2106,"y":0.0241},{"x":0.2106,"y":0.0287},{"x":0.2106,"y":0.0328},{"x":0.2106,"y":0.0365},{"x":0.2106,"y":0.0402},{"x":0.2106,"y":0.0439},{"x":0.2106,"y":0.0475},{"x":0.2106,"y":0.0513},{"x":0.2106,"y":0.0551},{"x":0.2106,"y":0.0592},
{"x":0.2175,"y":0.0265},{"x":0.2175,"y":0.0312},{"x":0.2175,"y":0.035},{"x":0.2175,"y":0.0387},{"x":0.2175,"y":0.0424},{"x":0.2175,"y":0.0461},{"x":0.2175,"y":0.0498},{"x":0.2175,"y":0.0536},{"x":0.2175,"y":0.0576},{"x":0.2175,"y":0.0621},
{"x":0.225,"y":0.0249},{"x":0.225,"y":0.0292},{"x":0.225,"y":0.0333},{"x":0.225,"y":0.037},{"x":0.225,"y":0.0407},{"x":0.225,"y":0.0444},{"x":0.225,"y":0.0482},{"x":0.225,"y":0.052},{"x":0.225,"y":0.0559},{"x":0.225,"y":0.0603},
{"x":0.2319,"y":0.0257},{"x":0.2319,"y":0.0306},{"x":0.2319,"y":0.0344},{"x":0.2319,"y":0.0382},{"x":0.2319,"y":0.0419},{"x":0.2319,"y":0.0456},{"x":0.2319,"y":0.0494},{"x":0.2319,"y":0.0532},{"x":0.2319,"y":0.0573},{"x":0.2319,"y":0.0626},
{"x":0.2394,"y":0.0228},{"x":0.2394,"y":0.0278},{"x":0.2394,"y":0.0321},{"x":0.2394,"y":0.0359},{"x":0.2394,"y":0.0397},{"x":0.2394,"y":0.0434},{"x":0.2394,"y":0.0472},{"x":0.2394,"y":0.051},{"x":0.2394,"y":0.0549},{"x":0.2394,"y":0.0592},
{"x":0.2463,"y":0.0239},{"x":0.2463,"y":0.0295},{"x":0.2463,"y":0.0336},{"x":0.2463,"y":0.0373},{"x":0.2463,"y":0.041},{"x":0.2463,"y":0.0448},{"x":0.2463,"y":0.0486},{"x":0.2463,"y":0.0525},{"x":0.2463,"y":0.0566},{"x":0.2463,"y":0.0614},
{"x":0.254,"y":0.0218},{"x":0.254,"y":0.0272},{"x":0.254,"y":0.0315},{"x":0.254,"y":0.0354},{"x":0.254,"y":0.0392},{"x":0.254,"y":0.043},{"x":0.254,"y":0.0468},{"x":0.254,"y":0.0508},{"x":0.254,"y":0.0549},{"x":0.254,"y":0.0592},
{"x":0.26,"y":0.0251},{"x":0.26,"y":0.0299},{"x":0.26,"y":0.0338},{"x":0.26,"y":0.0376},{"x":0.26,"y":0.0414},{"x":0.26,"y":0.0452},{"x":0.26,"y":0.0492},{"x":0.26,"y":0.0535},{"x":0.26,"y":0.0577},{"x":0.26,"y":0.0626},
{"x":0.2684,"y":0.0222},{"x":0.2684,"y":0.0281},{"x":0.2684,"y":0.0323},{"x":0.2684,"y":0.0362},{"x":0.2684,"y":0.04},{"x":0.2684,"y":0.0438},{"x":0.2684,"y":0.0478},{"x":0.2684,"y":0.0521},{"x":0.2684,"y":0.0563},{"x":0.2684,"y":0.0615},
{"x":0.2766,"y":0.0212},{"x":0.2766,"y":0.0262},{"x":0.2766,"y":0.0307},{"x":0.2766,"y":0.0346},{"x":0.2766,"y":0.0384},{"x":0.2766,"y":0.0422},{"x":0.2766,"y":0.0462},{"x":0.2766,"y":0.0505},{"x":0.2766,"y":0.0551},{"x":0.2766,"y":0.0602},
{"x":0.2849,"y":0.0235},{"x":0.2849,"y":0.0288},{"x":0.2849,"y":0.0328},{"x":0.2849,"y":0.0367},{"x":0.2849,"y":0.0407},{"x":0.2849,"y":0.0448},{"x":0.2849,"y":0.0492},{"x":0.2849,"y":0.0539},{"x":0.2849,"y":0.0589},
{"x":0.2911,"y":0.0219},{"x":0.2911,"y":0.0266},{"x":0.2911,"y":0.0312},{"x":0.2911,"y":0.0352},{"x":0.2911,"y":0.0392},{"x":0.2911,"y":0.0432},{"x":0.2911,"y":0.0475},{"x":0.2911,"y":0.0522},{"x":0.2911,"y":0.0572},
{"x":0.2993,"y":0.0229},{"x":0.2993,"y":0.0285},{"x":0.2993,"y":0.0329},{"x":0.2993,"y":0.0369},{"x":0.2993,"y":0.041},{"x":0.2993,"y":0.0453},{"x":0.2993,"y":0.0501},{"x":0.2993,"y":0.0553},
{"x":0.3095,"y":0.0205},{"x":0.3095,"y":0.0255},{"x":0.3095,"y":0.0303},{"x":0.3095,"y":0.0345},{"x":0.3095,"y":0.0386},{"x":0.3095,"y":0.0429},{"x":0.3095,"y":0.0475},{"x":0.3095,"y":0.0526},{"x":0.3095,"y":0.0582},
{"x":0.3177,"y":0.0217},{"x":0.3177,"y":0.0275},{"x":0.3177,"y":0.032},{"x":0.3177,"y":0.0361},{"x":0.3177,"y":0.0404},{"x":0.3177,"y":0.045},{"x":0.3177,"y":0.0501},{"x":0.3177,"y":0.0559},
{"x":0.3261,"y":0.0197},{"x":0.3261,"y":0.0246},{"x":0.3261,"y":0.0296},{"x":0.3261,"y":0.0338},{"x":0.3261,"y":0.038},{"x":0.3261,"y":0.0424},{"x":0.3261,"y":0.0473},{"x":0.3261,"y":0.0528},
{"x":0.3344,"y":0.0221},{"x":0.3344,"y":0.0271},{"x":0.3344,"y":0.0317},{"x":0.3344,"y":0.036},{"x":0.3344,"y":0.0403},{"x":0.3344,"y":0.0449},{"x":0.3344,"y":0.0502},
{"x":0.3448,"y":0.0235},{"x":0.3448,"y":0.0289},{"x":0.3448,"y":0.0333},{"x":0.3448,"y":0.0376},{"x":0.3448,"y":0.0422},{"x":0.3448,"y":0.0474},{"x":0.3448,"y":0.0534},
{"x":0.353,"y":0.0211},{"x":0.353,"y":0.0261},{"x":0.353,"y":0.0308},{"x":0.353,"y":0.0352},{"x":0.353,"y":0.0397},{"x":0.353,"y":0.0447},{"x":0.353,"y":0.0505},
{"x":0.3633,"y":0.0221},{"x":0.3633,"y":0.0278},{"x":0.3633,"y":0.0324},{"x":0.3633,"y":0.037},{"x":0.3633,"y":0.0419},{"x":0.3633,"y":0.0476},{"x":0.3633,"y":0.0543},
{"x":0.3737,"y":0.0201},{"x":0.3737,"y":0.0252},{"x":0.3737,"y":0.0302},{"x":0.3737,"y":0.0348},{"x":0.3737,"y":0.0395},{"x":0.3737,"y":0.0447},{"x":0.3737,"y":0.051},
{"x":0.3839,"y":0.0227},{"x":0.3839,"y":0.0279},{"x":0.3839,"y":0.0327},{"x":0.3839,"y":0.0374},{"x":0.3839,"y":0.0425},{"x":0.3839,"y":0.0484},
{"x":0.3943,"y":0.0234},{"x":0.3943,"y":0.0292},{"x":0.3943,"y":0.0342},{"x":0.3943,"y":0.0392},{"x":0.3943,"y":0.0449},{"x":0.3943,"y":0.0521},
{"x":0.4048,"y":0.0208},{"x":0.4048,"y":0.0262},{"x":0.4048,"y":0.0316},{"x":0.4048,"y":0.0366},{"x":0.4048,"y":0.0421},{"x":0.4048,"y":0.0487},
{"x":0.4169,"y":0.0224},{"x":0.4169,"y":0.0291},{"x":0.4169,"y":0.0341},{"x":0.4169,"y":0.0393},{"x":0.4169,"y":0.0455},
{"x":0.4272,"y":0.0249},{"x":0.4272,"y":0.0307},{"x":0.4272,"y":0.0359},{"x":0.4272,"y":0.0417},
{"x":0.4396,"y":0.0205},{"x":0.4396,"y":0.0277},{"x":0.4396,"y":0.0331},{"x":0.4396,"y":0.0386},{"x":0.4396,"y":0.0454},
{"x":0.4521,"y":0.0238},{"x":0.4521,"y":0.0298},{"x":0.4521,"y":0.0354},{"x":0.4521,"y":0.0417},
{"x":0.4645,"y":0.0194},{"x":0.4645,"y":0.0268},{"x":0.4645,"y":0.0327},{"x":0.4645,"y":0.0388},{"x":0.4645,"y":0.0461}
],
"fast":[
{"x":0.0038,"y":0.0193},{"x":0.0038,"y":0.0127},{"x":0.0038,"y":0.016},
{"x":0.0094,"y":0.0098},{"x":0.0094,"y":0.0356},
{"x":0.0144,"y":0.0013},{"x":0.0144,"y":0.0085},{"x":0.0144,"y":0.0452},
{"x":0.02,"y":0.0211},{"x":0.02,"y":0.0106},{"x":0.02,"y":0.0278},{"x":0.02,"y":0.0296},{"x":0.02,"y":0.0054},
{"x":0.0256,"y":0.0287},{"x":0.0256,"y":0.007},{"x":0.0256,"y":0.0015},
{"x":0.0313,"y":0.0194},{"x":0.0313,"y":0.0613},{"x":0.0313,"y":0.0109},{"x":0.0313,"y":0.034},
{"x":0.0363,"y":0.0241},{"x":0.0363,"y":0.009},{"x":0.0363,"y":0.0231},{"x":0.0363,"y":0.0026},
{"x":0.0419,"y":0.0176},{"x":0.0419,"y":0.0239},{"x":0.0419,"y":0.0086},{"x":0.0419,"y":0.0575},{"x":0.0419,"y":0.0494},
{"x":0.0475,"y":0.0092},{"x":0.0475,"y":0.0265},{"x":0.0475,"y":0.0716},
{"x":0.0525,"y":0.015},{"x":0.0525,"y":0.0032},{"x":0.0525,"y":0.0387},
{"x":0.0581,"y":0.0686},{"x":0.0581,"y":0.0211},{"x":0.0581,"y":0.0096},{"x":0.0581,"y":0.0402},
{"x":0.0619,"y":0.0941},{"x":0.0619,"y":0.0081},{"x":0.0631,"y":0.0371},
{"x":0.0688,"y":0.0222},{"x":0.0688,"y":0.0171},{"x":0.0688,"y":0.0627},{"x":0.0688,"y":0.0509},{"x":0.0688,"y":0.04},
{"x":0.0738,"y":0.0254},{"x":0.0738,"y":0.0068},
{"x":0.0794,"y":0.0047},{"x":0.0794,"y":0.0121},{"x":0.0794,"y":0.0229},{"x":0.0794,"y":0.0316},
{"x":0.085,"y":0.0096},{"x":0.085,"y":0.0299},{"x":0.085,"y":0.0178},{"x":0.085,"y":0.0412},{"x":0.085,"y":0.0498},
{"x":0.09,"y":0.008},{"x":0.09,"y":0.0153},{"x":0.09,"y":0.0251},{"x":0.09,"y":0.0332},{"x":0.09,"y":0.0437},
{"x":0.0956,"y":0.0153},{"x":0.0956,"y":0.0048},{"x":0.0956,"y":0.0364},{"x":0.0956,"y":0.0527},
{"x":0.1013,"y":0.0178},{"x":0.1013,"y":0.024},{"x":0.1013,"y":0.0335},{"x":0.1013,"y":0.045},{"x":0.1013,"y":0.0434},
{"x":0.1069,"y":0.0252},{"x":0.1069,"y":0.0143},{"x":0.1069,"y":0.0522},
{"x":0.1125,"y":0.0211},{"x":0.1125,"y":0.0098},{"x":0.1125,"y":0.0318},{"x":0.1125,"y":0.0401},
{"x":0.1181,"y":0.0168},{"x":0.1181,"y":0.0115},{"x":0.1181,"y":0.0305},{"x":0.1181,"y":0.0448},{"x":0.1181,"y":0.0409},
{"x":0.1238,"y":0.0177},{"x":0.1238,"y":0.0075},{"x":0.1238,"y":0.0286},{"x":0.1238,"y":0.0557},{"x":0.1238,"y":0.0505},
{"x":0.13,"y":0.0146},{"x":0.13,"y":0.0236},{"x":0.13,"y":0.0717},{"x":0.13,"y":0.0412},
{"x":0.1356,"y":0.0114},{"x":0.1356,"y":0.0205},{"x":0.1356,"y":0.0505},{"x":0.1356,"y":0.044},
{"x":0.1413,"y":0.0225},{"x":0.1413,"y":0.0382},{"x":0.1413,"y":0.0139},{"x":0.1413,"y":0.0468},{"x":0.1413,"y":0.052},
{"x":0.1475,"y":0.0104},{"x":0.1475,"y":0.0027},{"x":0.1475,"y":0.0345},{"x":0.1475,"y":0.0755},
{"x":0.1538,"y":0.0123},{"x":0.1538,"y":0.0107},{"x":0.1538,"y":0.018},{"x":0.1538,"y":0.0172},{"x":0.1538,"y":0.0526},{"x":0.1538,"y":0.0408},{"x":0.1538,"y":0.0387},
{"x":0.1594,"y":0.017},{"x":0.1594,"y":0.0061},{"x":0.1594,"y":0.0297},
{"x":0.1656,"y":0.023},{"x":0.1656,"y":0.0222},{"x":0.1656,"y":0.0209},{"x":0.1656,"y":0.0466},
{"x":0.1719,"y":0.0022},{"x":0.1719,"y":0.0335},{"x":0.1719,"y":0.0153},{"x":0.1719,"y":0.0426},
{"x":0.1781,"y":0.0178},{"x":0.1781,"y":0.0345},{"x":0.1781,"y":0.0326},{"x":0.1781,"y":0.0257},{"x":0.1781,"y":0.0478},
{"x":0.1844,"y":0.0231},{"x":0.1844,"y":0.0343},{"x":0.1844,"y":0.0118},{"x":0.1844,"y":0.0523},{"x":0.1844,"y":0.0513},{"x":0.1844,"y":0.0459},{"x":0.1844,"y":0.0452},
{"x":0.1906,"y":0.0131},{"x":0.1906,"y":0.006},{"x":0.1906,"y":0.0009},{"x":0.1906,"y":0.0193},{"x":0.1906,"y":0.0183},{"x":0.1906,"y":0.0232},{"x":0.1906,"y":0.0281},
{"x":0.1975,"y":0.0178},{"x":0.1975,"y":0.0241},{"x":0.1975,"y":0.0491},{"x":0.1975,"y":0.0407},{"x":0.1975,"y":0.0149},{"x":0.1975,"y":0.0312},
{"x":0.2044,"y":0.0147},{"x":0.2044,"y":0.0139},{"x":0.2044,"y":0.0072},{"x":0.2044,"y":0.0284},{"x":0.2044,"y":0.052},{"x":0.2044,"y":0.0512},{"x":0.2044,"y":0.0203},{"x":0.2044,"y":0.0251},{"x":0.2044,"y":0.0349},
{"x":0.2106,"y":0.0076},{"x":0.2106,"y":0.005},{"x":0.2106,"y":0.0199},{"x":0.2106,"y":0.0318},{"x":0.2106,"y":0.0599},{"x":0.2106,"y":0.0579},{"x":0.2106,"y":0.053},{"x":0.2106,"y":0.0495},{"x":0.2106,"y":0.0162},{"x":0.2106,"y":0.0236},{"x":0.2106,"y":0.0278},
{"x":0.2175,"y":0.0114},{"x":0.2175,"y":0.0104},{"x":0.2175,"y":0.0085},{"x":0.2175,"y":0.0042},{"x":0.2175,"y":0.0268},{"x":0.2175,"y":0.0554},{"x":0.2175,"y":0.041},{"x":0.2175,"y":0.0157},{"x":0.2175,"y":0.0221},{"x":0.2175,"y":0.0338},
{"x":0.225,"y":0.014},{"x":0.225,"y":0.007},{"x":0.225,"y":0.0015},{"x":0.225,"y":0.0333},{"x":0.225,"y":0.032},{"x":0.225,"y":0.0229},{"x":0.225,"y":0.0591},{"x":0.225,"y":0.0433},{"x":0.225,"y":0.0426},{"x":0.225,"y":0.0186},{"x":0.225,"y":0.0271},{"x":0.225,"y":0.0372},
{"x":0.2319,"y":0.0107},{"x":0.2319,"y":0.0057},{"x":0.2319,"y":0.0322},{"x":0.2319,"y":0.0314},{"x":0.2319,"y":0.0254},{"x":0.2319,"y":0.0245},{"x":0.2319,"y":0.0194},{"x":0.2319,"y":0.018},{"x":0.2319,"y":0.0163},{"x":0.2319,"y":0.074},{"x":0.2319,"y":0.0641},{"x":0.2319,"y":0.0544},{"x":0.2319,"y":0.0213},{"x":0.2319,"y":0.0279},{"x":0.2319,"y":0.0358},
{"x":0.2394,"y":0.011},{"x":0.2394,"y":0.0084},{"x":0.2394,"y":0.0332},{"x":0.2394,"y":0.0311},{"x":0.2394,"y":0.0296},{"x":0.2394,"y":0.0283},{"x":0.2394,"y":0.0271},{"x":0.2394,"y":0.0178},{"x":0.2394,"y":0.0405},{"x":0.2394,"y":0.0623},{"x":0.2394,"y":0.0434},{"x":0.2394,"y":0.0408},{"x":0.2394,"y":0.0146},{"x":0.2394,"y":0.0215},{"x":0.2394,"y":0.0247},{"x":0.2394,"y":0.0369},
{"x":0.2463,"y":0.0061},{"x":0.2463,"y":0.0142},{"x":0.2463,"y":0.0197},{"x":0.2463,"y":0.0226},{"x":0.2463,"y":0.0274},{"x":0.2463,"y":0.0352},{"x":0.2463,"y":0.0438},{"x":0.2463,"y":0.0683},{"x":0.2463,"y":0.0775},{"x":0.2463,"y":0.0164},{"x":0.2463,"y":0.0251},{"x":0.2463,"y":0.0312},{"x":0.2463,"y":0.0396},
{"x":0.254,"y":0.0089},{"x":0.254,"y":0.0153},{"x":0.254,"y":0.0186},{"x":0.254,"y":0.0241},{"x":0.254,"y":0.0287},{"x":0.254,"y":0.0318},{"x":0.254,"y":0.0364},{"x":0.254,"y":0.0415},{"x":0.254,"y":0.0472},{"x":0.254,"y":0.0556},{"x":0.254,"y":0.0621},{"x":0.254,"y":0.0127},{"x":0.254,"y":0.0214},{"x":0.254,"y":0.0265},{"x":0.254,"y":0.0341},{"x":0.254,"y":0.0392},{"x":0.254,"y":0.0445},
{"x":0.26,"y":0.0041},{"x":0.26,"y":0.0118},{"x":0.26,"y":0.0172},{"x":0.26,"y":0.0209},{"x":0.26,"y":0.0256},{"x":0.26,"y":0.0302},{"x":0.26,"y":0.0341},{"x":0.26,"y":0.0389},{"x":0.26,"y":0.0447},{"x":0.26,"y":0.0508},{"x":0.26,"y":0.0598},{"x":0.26,"y":0.0148},{"x":0.26,"y":0.0191},{"x":0.26,"y":0.0231},{"x":0.26,"y":0.0279},{"x":0.26,"y":0.0322},{"x":0.26,"y":0.0365},{"x":0.26,"y":0.0418},
{"x":0.2684,"y":0.0073},{"x":0.2684,"y":0.0134},{"x":0.2684,"y":0.0162},{"x":0.2684,"y":0.0219},{"x":0.2684,"y":0.0263},{"x":0.2684,"y":0.0296},{"x":0.2684,"y":0.0332},{"x":0.2684,"y":0.0378},{"x":0.2684,"y":0.0424},{"x":0.2684,"y":0.0486},{"x":0.2684,"y":0.0537},{"x":0.2684,"y":0.0691},{"x":0.2684,"y":0.0104},{"x":0.2684,"y":0.0187},{"x":0.2684,"y":0.0241},{"x":0.2684,"y":0.0279},{"x":0.2684,"y":0.0314},{"x":0.2684,"y":0.0355},{"x":0.2684,"y":0.0401},{"x":0.2684,"y":0.0455},
{"x":0.2766,"y":0.0061},{"x":0.2766,"y":0.0112},{"x":0.2766,"y":0.0158},{"x":0.2766,"y":0.0197},{"x":0.2766,"y":0.0238},{"x":0.2766,"y":0.0281},{"x":0.2766,"y":0.0319},{"x":0.2766,"y":0.0357},{"x":0.2766,"y":0.0402},{"x":0.2766,"y":0.0461},{"x":0.2766,"y":0.0524},{"x":0.2766,"y":0.0583},{"x":0.2766,"y":0.0136},{"x":0.2766,"y":0.0178},{"x":0.2766,"y":0.0217},{"x":0.2766,"y":0.0259},{"x":0.2766,"y":0.03},{"x":0.2766,"y":0.0338},{"x":0.2766,"y":0.0381},{"x":0.2766,"y":0.0431},
{"x":0.2849,"y":0.0028},{"x":0.2849,"y":0.0092},{"x":0.2849,"y":0.0145},{"x":0.2849,"y":0.0183},{"x":0.2849,"y":0.0229},{"x":0.2849,"y":0.0268},{"x":0.2849,"y":0.0309},{"x":0.2849,"y":0.0347},{"x":0.2849,"y":0.0392},{"x":0.2849,"y":0.0437},{"x":0.2849,"y":0.0498},{"x":0.2849,"y":0.0612},{"x":0.2849,"y":0.0683},{"x":0.2849,"y":0.0119},{"x":0.2849,"y":0.0164},{"x":0.2849,"y":0.0206},{"x":0.2849,"y":0.0248},{"x":0.2849,"y":0.0288},{"x":0.2849,"y":0.0327},{"x":0.2849,"y":0.0369},{"x":0.2849,"y":0.0414},
{"x":0.2911,"y":0.008},{"x":0.2911,"y":0.0127},{"x":0.2911,"y":0.0171},{"x":0.2911,"y":0.0214},{"x":0.2911,"y":0.0254},{"x":0.2911,"y":0.0293},{"x":0.2911,"y":0.0331},{"x":0.2911,"y":0.0374},{"x":0.2911,"y":0.0421},{"x":0.2911,"y":0.0479},{"x":0.2911,"y":0.0557},{"x":0.2911,"y":0.0104},{"x":0.2911,"y":0.0149},{"x":0.2911,"y":0.0192},{"x":0.2911,"y":0.0234},{"x":0.2911,"y":0.0273},{"x":0.2911,"y":0.0312},{"x":0.2911,"y":0.0352},{"x":0.2911,"y":0.0397},{"x":0.2911,"y":0.0447},
{"x":0.2993,"y":0.0052},{"x":0.2993,"y":0.0108},{"x":0.2993,"y":0.0153},{"x":0.2993,"y":0.0196},{"x":0.2993,"y":0.0238},{"x":0.2993,"y":0.0279},{"x":0.2993,"y":0.0318},{"x":0.2993,"y":0.0358},{"x":0.2993,"y":0.0404},{"x":0.2993,"y":0.0457},{"x":0.2993,"y":0.0521},{"x":0.2993,"y":0.0641},{"x":0.2993,"y":0.092},{"x":0.2993,"y":0.0131},{"x":0.2993,"y":0.0175},{"x":0.2993,"y":0.0217},{"x":0.2993,"y":0.0258},{"x":0.2993,"y":0.0298},{"x":0.2993,"y":0.0338},{"x":0.2993,"y":0.0381},{"x":0.2993,"y":0.0429},
{"x":0.3095,"y":0.0007},{"x":0.3095,"y":0.0087},{"x":0.3095,"y":0.0139},{"x":0.3095,"y":0.0181},{"x":0.3095,"y":0.0226},{"x":0.3095,"y":0.0266},{"x":0.3095,"y":0.0302},{"x":0.3095,"y":0.0339},{"x":0.3095,"y":0.0382},{"x":0.3095,"y":0.0431},{"x":0.3095,"y":0.0492},{"x":0.3095,"y":0.0579},{"x":0.3095,"y":0.0711},{"x":0.3095,"y":0.0113},{"x":0.3095,"y":0.016},{"x":0.3095,"y":0.0203},{"x":0.3095,"y":0.0246},{"x":0.3095,"y":0.0284},{"x":0.3095,"y":0.0321},{"x":0.3095,"y":0.036},{"x":0.3095,"y":0.0406},
{"x":0.3177,"y":0.0063},{"x":0.3177,"y":0.0119},{"x":0.3177,"y":0.0166},{"x":0.3177,"y":0.0208},{"x":0.3177,"y":0.0249},{"x":0.3177,"y":0.0288},{"x":0.3177,"y":0.0325},{"x":0.3177,"y":0.0363},{"x":0.3177,"y":0.0408},{"x":0.3177,"y":0.0463},{"x":0.3177,"y":0.0538},{"x":0.3177,"y":0.0142},{"x":0.3177,"y":0.0187},{"x":0.3177,"y":0.0228},{"x":0.3177,"y":0.0268},{"x":0.3177,"y":0.0306},{"x":0.3177,"y":0.0344},{"x":0.3177,"y":0.0385},{"x":0.3177,"y":0.0435},
{"x":0.3261,"y":0.0038},{"x":0.3261,"y":0.0096},{"x":0.3261,"y":0.0148},{"x":0.3261,"y":0.0192},{"x":0.3261,"y":0.0235},{"x":0.3261,"y":0.0274},{"x":0.3261,"y":0.0311},{"x":0.3261,"y":0.0351},{"x":0.3261,"y":0.0393},{"x":0.3261,"y":0.0441},{"x":0.3261,"y":0.0503},{"x":0.3261,"y":0.0614},{"x":0.3261,"y":0.0122},{"x":0.3261,"y":0.017},{"x":0.3261,"y":0.0213},{"x":0.3261,"y":0.0255},{"x":0.3261,"y":0.0292},{"x":0.3261,"y":0.0331},{"x":0.3261,"y":0.0372},{"x":0.3261,"y":0.0417},
{"x":0.3344,"y":0.0076},{"x":0.3344,"y":0.0131},{"x":0.3344,"y":0.0177},{"x":0.3344,"y":0.0219},{"x":0.3344,"y":0.0259},{"x":0.3344,"y":0.0298},{"x":0.3344,"y":0.0337},{"x":0.3344,"y":0.0378},{"x":0.3344,"y":0.0426},{"x":0.3344,"y":0.0484},{"x":0.3344,"y":0.0566},{"x":0.3344,"y":0.0104},{"x":0.3344,"y":0.0154},{"x":0.3344,"y":0.0198},{"x":0.3344,"y":0.0239},{"x":0.3344,"y":0.0278},{"x":0.3344,"y":0.0317},{"x":0.3344,"y":0.0357},{"x":0.3344,"y":0.0402},{"x":0.3344,"y":0.0455},
{"x":0.3448,"y":0.0054},{"x":0.3448,"y":0.0112},{"x":0.3448,"y":0.0161},{"x":0.3448,"y":0.0204},{"x":0.3448,"y":0.0246},{"x":0.3448,"y":0.0285},{"x":0.3448,"y":0.0323},{"x":0.3448,"y":0.0364},{"x":0.3448,"y":0.0411},{"x":0.3448,"y":0.0465},{"x":0.3448,"y":0.0537},{"x":0.3448,"y":0.0648},{"x":0.3448,"y":0.0137},{"x":0.3448,"y":0.0183},{"x":0.3448,"y":0.0225},{"x":0.3448,"y":0.0265},{"x":0.3448,"y":0.0304},{"x":0.3448,"y":0.0343},{"x":0.3448,"y":0.0387},{"x":0.3448,"y":0.0438},
{"x":0.353,"y":0.0088},{"x":0.353,"y":0.0143},{"x":0.353,"y":0.0189},{"x":0.353,"y":0.0231},{"x":0.353,"y":0.0271},{"x":0.353,"y":0.0309},{"x":0.353,"y":0.0349},{"x":0.353,"y":0.0393},{"x":0.353,"y":0.0447},{"x":0.353,"y":0.0513},{"x":0.353,"y":0.0116},{"x":0.353,"y":0.0166},{"x":0.353,"y":0.021},{"x":0.353,"y":0.0251},{"x":0.353,"y":0.029},{"x":0.353,"y":0.0329},{"x":0.353,"y":0.0371},{"x":0.353,"y":0.042},{"x":0.353,"y":0.0478},
{"x":0.3633,"y":0.0031},{"x":0.3633,"y":0.0101},{"x":0.3633,"y":0.0157},{"x":0.3633,"y":0.0201},{"x":0.3633,"y":0.0243},{"x":0.3633,"y":0.0283},{"x":0.3633,"y":0.0321},{"x":0.3633,"y":0.0361},{"x":0.3633,"y":0.0407},{"x":0.3633,"y":0.0461},{"x":0.3633,"y":0.0531},{"x":0.3633,"y":0.0614},{"x":0.3633,"y":0.0129},{"x":0.3633,"y":0.0179},{"x":0.3633,"y":0.0222},{"x":0.3633,"y":0.0263},{"x":0.3633,"y":0.0302},{"x":0.3633,"y":0.0341},{"x":0.3633,"y":0.0384},{"x":0.3633,"y":0.0434},
{"x":0.3737,"y":0.0069},{"x":0.3737,"y":0.0128},{"x":0.3737,"y":0.0176},{"x":0.3737,"y":0.0219},{"x":0.3737,"y":0.0261},{"x":0.3737,"y":0.0299},{"x":0.3737,"y":0.0338},{"x":0.3737,"y":0.0381},{"x":0.3737,"y":0.0432},{"x":0.3737,"y":0.0496},{"x":0.3737,"y":0.0589},{"x":0.3737,"y":0.0099},{"x":0.3737,"y":0.0152},{"x":0.3737,"y":0.0197},{"x":0.3737,"y":0.024},{"x":0.3737,"y":0.028},{"x":0.3737,"y":0.0318},{"x":0.3737,"y":0.0359},{"x":0.3737,"y":0.0406},{"x":0.3737,"y":0.0463},
{"x":0.3839,"y":0.0043},{"x":0.3839,"y":0.0109},{"x":0.3839,"y":0.0162},{"x":0.3839,"y":0.0206},{"x":0.3839,"y":0.0248},{"x":0.3839,"y":0.0287},{"x":0.3839,"y":0.0326},{"x":0.3839,"y":0.0368},{"x":0.3839,"y":0.0417},{"x":0.3839,"y":0.0477},{"x":0.3839,"y":0.0556},{"x":0.3839,"y":0.0731},{"x":0.3839,"y":0.0136},{"x":0.3839,"y":0.0184},{"x":0.3839,"y":0.0227},{"x":0.3839,"y":0.0267},{"x":0.3839,"y":0.0306},{"x":0.3839,"y":0.0347},{"x":0.3839,"y":0.0392},{"x":0.3839,"y":0.0446},
{"x":0.3943,"y":0.0083},{"x":0.3943,"y":0.0141},{"x":0.3943,"y":0.0189},{"x":0.3943,"y":0.0232},{"x":0.3943,"y":0.0272},{"x":0.3943,"y":0.0311},{"x":0.3943,"y":0.0352},{"x":0.3943,"y":0.0399},{"x":0.3943,"y":0.0456},{"x":0.3943,"y":0.0528},{"x":0.3943,"y":0.0996},{"x":0.3943,"y":0.0112},{"x":0.3943,"y":0.0165},{"x":0.3943,"y":0.021},{"x":0.3943,"y":0.0252},{"x":0.3943,"y":0.0291},{"x":0.3943,"y":0.0331},{"x":0.3943,"y":0.0375},{"x":0.3943,"y":0.0427},
{"x":0.4048,"y":0.0026},{"x":0.4048,"y":0.0097},{"x":0.4048,"y":0.0152},{"x":0.4048,"y":0.0198},{"x":0.4048,"y":0.0241},{"x":0.4048,"y":0.0281},{"x":0.4048,"y":0.0321},{"x":0.4048,"y":0.0364},{"x":0.4048,"y":0.0413},{"x":0.4048,"y":0.0472},{"x":0.4048,"y":0.0551},{"x":0.4048,"y":0.0707},{"x":0.4048,"y":0.0797},{"x":0.4048,"y":0.0125},{"x":0.4048,"y":0.0175},{"x":0.4048,"y":0.0219},{"x":0.4048,"y":0.0261},{"x":0.4048,"y":0.0301},{"x":0.4048,"y":0.0342},{"x":0.4048,"y":0.0388},{"x":0.4048,"y":0.0442},
{"x":0.4169,"y":0.0063},{"x":0.4169,"y":0.0121},{"x":0.4169,"y":0.0171},{"x":0.4169,"y":0.0215},{"x":0.4169,"y":0.0257},{"x":0.4169,"y":0.0297},{"x":0.4169,"y":0.0338},{"x":0.4169,"y":0.0384},{"x":0.4169,"y":0.0439},{"x":0.4169,"y":0.0507},{"x":0.4169,"y":0.0625},{"x":0.4169,"y":0.0755},{"x":0.4169,"y":0.0092},{"x":0.4169,"y":0.0146},{"x":0.4169,"y":0.0193},{"x":0.4169,"y":0.0236},{"x":0.4169,"y":0.0277},{"x":0.4169,"y":0.0317},{"x":0.4169,"y":0.0361},{"x":0.4169,"y":0.0411},{"x":0.4169,"y":0.0472},
{"x":0.4272,"y":0.0039},{"x":0.4272,"y":0.0102},{"x":0.4272,"y":0.0157},{"x":0.4272,"y":0.0203},{"x":0.4272,"y":0.0246},{"x":0.4272,"y":0.0287},{"x":0.4272,"y":0.0328},{"x":0.4272,"y":0.0373},{"x":0.4272,"y":0.0425},{"x":0.4272,"y":0.0489},{"x":0.4272,"y":0.0581},{"x":0.4272,"y":0.09},{"x":0.4272,"y":0.013},{"x":0.4272,"y":0.018},{"x":0.4272,"y":0.0224},{"x":0.4272,"y":0.0266},{"x":0.4272,"y":0.0307},{"x":0.4272,"y":0.035},{"x":0.4272,"y":0.0399},{"x":0.4272,"y":0.0456},
{"x":0.4396,"y":0.0076},{"x":0.4396,"y":0.0134},{"x":0.4396,"y":0.0184},{"x":0.4396,"y":0.0229},{"x":0.4396,"y":0.0271},{"x":0.4396,"y":0.0312},{"x":0.4396,"y":0.0355},{"x":0.4396,"y":0.0404},{"x":0.4396,"y":0.0463},{"x":0.4396,"y":0.0541},{"x":0.4396,"y":0.0755},{"x":0.4396,"y":0.0105},{"x":0.4396,"y":0.0159},{"x":0.4396,"y":0.0206},{"x":0.4396,"y":0.025},{"x":0.4396,"y":0.0291},{"x":0.4396,"y":0.0333},{"x":0.4396,"y":0.0379},{"x":0.4396,"y":0.0433},
{"x":0.4521,"y":0.0049},{"x":0.4521,"y":0.0113},{"x":0.4521,"y":0.0167},{"x":0.4521,"y":0.0213},{"x":0.4521,"y":0.0256},{"x":0.4521,"y":0.0298},{"x":0.4521,"y":0.0341},{"x":0.4521,"y":0.0389},{"x":0.4521,"y":0.0446},{"x":0.4521,"y":0.0519},{"x":0.4521,"y":0.0714},{"x":0.4521,"y":0.014},{"x":0.4521,"y":0.019},{"x":0.4521,"y":0.0234},{"x":0.4521,"y":0.0277},{"x":0.4521,"y":0.0319},{"x":0.4521,"y":0.0365},{"x":0.4521,"y":0.0417},{"x":0.4521,"y":0.0482},
{"x":0.4645,"y":0.0069},{"x":0.4645,"y":0.0129},{"x":0.4645,"y":0.0181},{"x":0.4645,"y":0.0227},{"x":0.4645,"y":0.0271},{"x":0.4645,"y":0.0313},{"x":0.4645,"y":0.0357},{"x":0.4645,"y":0.0406},{"x":0.4645,"y":0.0467},{"x":0.4645,"y":0.0553},{"x":0.4645,"y":0.0099},{"x":0.4645,"y":0.0155},{"x":0.4645,"y":0.0204},{"x":0.4645,"y":0.0249},{"x":0.4645,"y":0.0292},{"x":0.4645,"y":0.0335},{"x":0.4645,"y":0.0381},{"x":0.4645,"y":0.0436},
{"x":0.4789,"y":0.0061},{"x":0.4789,"y":0.0112},{"x":0.4789,"y":0.0147},{"x":0.4789,"y":0.0173},{"x":0.4789,"y":0.0207},{"x":0.4789,"y":0.0241},{"x":0.4789,"y":0.0261},{"x":0.4789,"y":0.0285},{"x":0.4789,"y":0.0324},{"x":0.4789,"y":0.0348},{"x":0.4789,"y":0.0401},{"x":0.4789,"y":0.0529},{"x":0.4789,"y":0.0541},{"x":0.4789,"y":0.0757},{"x":0.4789,"y":0.0129},{"x":0.4789,"y":0.019},{"x":0.4789,"y":0.0224},{"x":0.4789,"y":0.0305},{"x":0.4789,"y":0.0372},{"x":0.4789,"y":0.0428},
{"x":0.4933,"y":0.0076},{"x":0.4933,"y":0.0128},{"x":0.4933,"y":0.017},{"x":0.4933,"y":0.0206},{"x":0.4933,"y":0.0248},{"x":0.4933,"y":0.0267},{"x":0.4933,"y":0.0294},{"x":0.4933,"y":0.0359},{"x":0.4933,"y":0.0396},{"x":0.4933,"y":0.043},{"x":0.4933,"y":0.0458},{"x":0.4933,"y":0.0541},{"x":0.4933,"y":0.0627},{"x":0.4933,"y":0.0102},{"x":0.4933,"y":0.0149},{"x":0.4933,"y":0.0186},{"x":0.4933,"y":0.0227},{"x":0.4933,"y":0.028},{"x":0.4933,"y":0.0322},{"x":0.4933,"y":0.0377},
{"x":0.5078,"y":0.0134},{"x":0.5078,"y":0.0163},{"x":0.5078,"y":0.0193},{"x":0.5078,"y":0.0212},{"x":0.5078,"y":0.0243},{"x":0.5078,"y":0.0272},{"x":0.5078,"y":0.0299},{"x":0.5078,"y":0.033},{"x":0.5078,"y":0.0354},{"x":0.5078,"y":0.0374},{"x":0.5078,"y":0.0406},{"x":0.5078,"y":0.0471},{"x":0.5078,"y":0.0148},{"x":0.5078,"y":0.0178},{"x":0.5078,"y":0.0228},{"x":0.5078,"y":0.0257},{"x":0.5078,"y":0.0285},{"x":0.5078,"y":0.0315},{"x":0.5078,"y":0.039},
{"x":0.5222,"y":0.0019},{"x":0.5222,"y":0.0126},{"x":0.5222,"y":0.0207},{"x":0.5222,"y":0.0222},{"x":0.5222,"y":0.0249},{"x":0.5222,"y":0.0319},{"x":0.5222,"y":0.0359},{"x":0.5222,"y":0.0519},{"x":0.5222,"y":0.0165},{"x":0.5222,"y":0.0186},{"x":0.5222,"y":0.0236},{"x":0.5222,"y":0.0282},{"x":0.5222,"y":0.0301},{"x":0.5222,"y":0.0338},{"x":0.5222,"y":0.0422},
{"x":0.5386,"y":0.0115},{"x":0.5386,"y":0.0134},{"x":0.5386,"y":0.0142},{"x":0.5386,"y":0.0193},{"x":0.5386,"y":0.0217},{"x":0.5386,"y":0.023},{"x":0.5386,"y":0.0248},{"x":0.5386,"y":0.0275},{"x":0.5386,"y":0.0314},{"x":0.5386,"y":0.0353},{"x":0.5386,"y":0.0388},{"x":0.5386,"y":0.0159},{"x":0.5386,"y":0.0175},{"x":0.5386,"y":0.0205},{"x":0.5386,"y":0.0262},{"x":0.5386,"y":0.0294},{"x":0.5386,"y":0.0333},
{"x":0.5551,"y":0.0091},{"x":0.5551,"y":0.0142},{"x":0.5551,"y":0.0167},{"x":0.5551,"y":0.018},{"x":0.5551,"y":0.0286},{"x":0.5551,"y":0.0324},{"x":0.5551,"y":0.0339},{"x":0.5551,"y":0.0421},{"x":0.5551,"y":0.0469},{"x":0.5551,"y":0.0154},{"x":0.5551,"y":0.0204},{"x":0.5551,"y":0.0228},{"x":0.5551,"y":0.0253},{"x":0.5551,"y":0.0305},{"x":0.5551,"y":0.0378},
{"x":0.5737,"y":0.0139},{"x":0.5737,"y":0.016},{"x":0.5737,"y":0.0179},{"x":0.5737,"y":0.0271},{"x":0.5737,"y":0.0344},{"x":0.5737,"y":0.0374},{"x":0.5737,"y":0.0628},
{"x":0.5919,"y":0.023},{"x":0.5919,"y":0.0239},{"x":0.5919,"y":0.0339},{"x":0.5919,"y":0.0431}
],
"slowBand":[{"x":0.031,"lo":0.0307,"hi":0.0666},{"x":0.079,"lo":0.0313,"hi":0.0681},{"x":0.104,"lo":0.03,"hi":0.0647},{"x":0.146,"lo":0.0272,"hi":0.0618},{"x":0.208,"lo":0.0262,"hi":0.0565},{"x":0.25,"lo":0.0248,"hi":0.0545},{"x":0.283,"lo":0.0215,"hi":0.053},{"x":0.361,"lo":0.021,"hi":0.0502},{"x":0.383,"lo":0.0209,"hi":0.05},{"x":0.474,"lo":0.0196,"hi":0.0497}],
"fastBand":[{"x":0.078,"lo":0.0139,"hi":0.0447},{"x":0.1875,"lo":0.0152,"hi":0.0435},{"x":0.24,"lo":0.0162,"hi":0.0477},{"x":0.25,"lo":0.0165,"hi":0.0463},{"x":0.272,"lo":0.0175,"hi":0.0452},{"x":0.312,"lo":0.0154,"hi":0.0436},{"x":0.33,"lo":0.0165,"hi":0.0428},{"x":0.361,"lo":0.0178,"hi":0.0413},{"x":0.3775,"lo":0.017,"hi":0.0401},{"x":0.405,"lo":0.0154,"hi":0.0447},{"x":0.41,"lo":0.0155,"hi":0.0451},{"x":0.45,"lo":0.0167,"hi":0.0443},{"x":0.474,"lo":0.016,"hi":0.0439},{"x":0.556,"lo":0.0147,"hi":0.0398}],
"slowMed":[{"x":0.031,"y":0.0484},{"x":0.079,"y":0.0484},{"x":0.104,"y":0.0451},{"x":0.1167,"y":0.0442},{"x":0.181,"y":0.0409},{"x":0.2146,"y":0.0379},{"x":0.25,"y":0.0388},{"x":0.2878,"y":0.0353},{"x":0.383,"y":0.0332},{"x":0.4754,"y":0.0309}],
"fastMed":[{"x":0.078,"y":0.0282},{"x":0.1875,"y":0.0301},{"x":0.246,"y":0.0277},{"x":0.279,"y":0.0272},{"x":0.312,"y":0.0251},{"x":0.3455,"y":0.0284},{"x":0.379,"y":0.0284},{"x":0.41,"y":0.0272},{"x":0.5586,"y":0.026}],
"slowDash":[{"x":0.031,"y":0.0458},{"x":0.079,"y":0.0392},{"x":0.121,"y":0.0338},{"x":0.179,"y":0.0258},{"x":0.21,"y":0.0222},{"x":0.25,"y":0.0201},{"x":0.2633,"y":0.0173},{"x":0.29,"y":0.0121},{"x":0.3166,"y":0.0086},{"x":0.3475,"y":0.0055},{"x":0.474,"y":0.0}],
"fastDash":[{"x":0.078,"y":0.0316},{"x":0.119,"y":0.0303},{"x":0.181,"y":0.0282},{"x":0.221,"y":0.0277},{"x":0.246,"y":0.0272},{"x":0.28,"y":0.0188},{"x":0.31,"y":0.0178},{"x":0.343,"y":0.0121},{"x":0.375,"y":0.01},{"x":0.45,"y":0.0},{"x":0.556,"y":0.0}]
},
"layer":[
{"data":{"name":"slow"},"mark":{"type":"circle","size":40,"color":"#008b8b","opacity":1,"clip":true},
 "encoding":{
  "x":{"field":"x","type":"quantitative","title":null,"scale":{"domain":[0,0.598125],"nice":false,"zero":false},
   "axis":{"orient":"bottom","values":[0,0.1,0.2,0.3,0.4,0.5],"format":".1f","tickSize":8,"tickColor":"black","tickWidth":1.5,"grid":true,"gridColor":"#9a9a9a","gridDash":[1.5,2.5],"gridWidth":1.2,"domainColor":"black","domainWidth":2,
    "labelFont":"Liberation Serif","labelFontSize":52,"labelColor":"black","labelPadding":8,"labelFlush":false,"labelOverlap":false,"labelBound":false}},
  "y":{"field":"y","type":"quantitative","title":null,"scale":{"domain":[0,0.1],"nice":false,"zero":false},
   "axis":{"orient":"left","values":[0,0.01,0.02,0.03,0.04,0.05,0.06,0.07,0.08,0.09],"format":".2f","tickSize":8,"tickColor":"black","tickWidth":1.5,"grid":true,"gridColor":"#9a9a9a","gridDash":[1.5,2.5],"gridWidth":1.2,"domainColor":"black","domainWidth":2,
    "labelFont":"Liberation Serif","labelFontSize":52,"labelColor":"black","labelPadding":7,"labelFlush":false,"labelOverlap":false,"labelBound":false,"labelBaseline":"middle"}}
 }},
{"data":{"name":"slowBand"},"mark":{"type":"area","color":"#008b8b","opacity":0.3},
 "encoding":{"x":{"field":"x","type":"quantitative","title":null,"axis":null,"scale":{"domain":[0,0.598125],"nice":false,"zero":false}},
  "y":{"field":"lo","type":"quantitative","title":null,"axis":null,"scale":{"domain":[0,0.1],"nice":false,"zero":false}},"y2":{"field":"hi"}}},
{"data":{"name":"fastBand"},"mark":{"type":"area","color":"#ffa500","opacity":0.3},
 "encoding":{"x":{"field":"x","type":"quantitative","title":null,"axis":null,"scale":{"domain":[0,0.598125],"nice":false,"zero":false}},
  "y":{"field":"lo","type":"quantitative","title":null,"axis":null,"scale":{"domain":[0,0.1],"nice":false,"zero":false}},"y2":{"field":"hi"}}},
{"data":{"name":"fast"},"mark":{"type":"circle","size":40,"color":"#ffa500","opacity":1,"clip":true},
 "encoding":{
  "x":{"field":"x","type":"quantitative","title":null,"scale":{"domain":[0,0.598125],"nice":false,"zero":false},
   "axis":{"orient":"bottom","values":[0.02,0.04,0.06,0.08,0.12,0.14,0.16,0.18,0.22,0.24,0.26,0.28,0.32,0.34,0.36,0.38,0.42,0.44,0.46,0.48,0.52,0.54,0.56,0.58],"labels":false,"domain":false,"tickSize":4.5,"tickColor":"black","tickWidth":1.2,"grid":true,"gridColor":"#cccccc","gridDash":[1.5,2.5],"gridWidth":1.2}},
  "y":{"field":"y","type":"quantitative","title":null,"scale":{"domain":[0,0.1],"nice":false,"zero":false},
   "axis":{"orient":"left","values":[0.002,0.004,0.006,0.008,0.012,0.014,0.016,0.018,0.022,0.024,0.026,0.028,0.032,0.034,0.036,0.038,0.042,0.044,0.046,0.048,0.052,0.054,0.056,0.058,0.062,0.064,0.066,0.068,0.072,0.074,0.076,0.078,0.082,0.084,0.086,0.088,0.092,0.094,0.096,0.098],"labels":false,"domain":false,"tickSize":4.5,"tickColor":"black","tickWidth":1.2,"grid":true,"gridColor":"#cccccc","gridDash":[1.5,2.5],"gridWidth":1.2}}
 }},
{"data":{"name":"slowMed"},"mark":{"type":"line","color":"#008b8b","strokeWidth":6.5,"clip":true},
 "encoding":{"x":{"field":"x","type":"quantitative","title":null,"axis":null,"scale":{"domain":[0,0.598125],"nice":false,"zero":false}},
  "y":{"field":"y","type":"quantitative","title":null,"axis":null,"scale":{"domain":[0,0.1],"nice":false,"zero":false}}}},
{"data":{"name":"fastMed"},"mark":{"type":"line","color":"#ffa500","strokeWidth":6.5,"clip":true},
 "encoding":{"x":{"field":"x","type":"quantitative","title":null,"axis":null,"scale":{"domain":[0,0.598125],"nice":false,"zero":false}},
  "y":{"field":"y","type":"quantitative","title":null,"axis":null,"scale":{"domain":[0,0.1],"nice":false,"zero":false}}}},
{"data":{"name":"slowDash"},"mark":{"type":"line","color":"#008b8b","strokeWidth":10,"strokeDash":[43,21],"strokeCap":"butt","clip":true},
 "encoding":{"x":{"field":"x","type":"quantitative","title":null,"axis":null,"scale":{"domain":[0,0.598125],"nice":false,"zero":false}},
  "y":{"field":"y","type":"quantitative","title":null,"axis":null,"scale":{"domain":[0,0.1],"nice":false,"zero":false}}}},
{"data":{"name":"fastDash"},"mark":{"type":"line","color":"#ffa500","strokeWidth":10,"strokeDash":[43,21],"strokeCap":"butt","clip":true},
 "encoding":{"x":{"field":"x","type":"quantitative","title":null,"axis":null,"scale":{"domain":[0,0.598125],"nice":false,"zero":false}},
  "y":{"field":"y","type":"quantitative","title":null,"axis":null,"scale":{"domain":[0,0.1],"nice":false,"zero":false}}}},
{"data":{"name":"one"},"mark":{"type":"rule","color":"black","strokeWidth":2},"encoding":{"y":{"datum":0.1,"axis":null,"scale":{"domain":[0,0.1],"nice":false,"zero":false}}}},

{"data":{"name":"one"},"mark":{"type":"text","text":"10","font":"Liberation Serif","fontSize":52,"align":"left","baseline":"alphabetic","color":"black"},"encoding":{"x":{"datum":0.13688,"axis":null,"scale":{"domain":[0,0.598125],"nice":false,"zero":false}},"y":{"datum":0.10223,"axis":null,"scale":{"domain":[0,0.1],"nice":false,"zero":false}}}},
{"data":{"name":"one"},"mark":{"type":"text","text":"10.9","font":"Liberation Serif","fontSize":40,"align":"left","baseline":"alphabetic","color":"black"},"encoding":{"x":{"datum":0.17,"axis":null,"scale":{"domain":[0,0.598125],"nice":false,"zero":false}},"y":{"datum":0.10417,"axis":null,"scale":{"domain":[0,0.1],"nice":false,"zero":false}}}},
{"data":{"name":"one"},"mark":{"type":"text","text":"<","font":"Liberation Serif","fontSize":56,"align":"center","baseline":"alphabetic","color":"black"},"encoding":{"x":{"datum":0.2356,"axis":null,"scale":{"domain":[0,0.598125],"nice":false,"zero":false}},"y":{"datum":0.10223,"axis":null,"scale":{"domain":[0,0.1],"nice":false,"zero":false}}}},
{"data":{"name":"one"},"mark":{"type":"text","text":"M","font":"Liberation Serif","fontStyle":"italic","fontSize":58,"align":"left","baseline":"alphabetic","color":"black"},"encoding":{"x":{"datum":0.25625,"axis":null,"scale":{"domain":[0,0.598125],"nice":false,"zero":false}},"y":{"datum":0.10223,"axis":null,"scale":{"domain":[0,0.1],"nice":false,"zero":false}}}},
{"data":{"name":"one"},"mark":{"type":"text","text":"peak","font":"Liberation Serif","fontStyle":"italic","fontSize":40,"align":"left","baseline":"alphabetic","color":"black"},"encoding":{"x":{"datum":0.28875,"axis":null,"scale":{"domain":[0,0.598125],"nice":false,"zero":false}},"y":{"datum":0.10165,"axis":null,"scale":{"domain":[0,0.1],"nice":false,"zero":false}}}},
{"data":{"name":"one"},"mark":{"type":"text","text":"<","font":"Liberation Serif","fontSize":56,"align":"center","baseline":"alphabetic","color":"black"},"encoding":{"x":{"datum":0.36625,"axis":null,"scale":{"domain":[0,0.598125],"nice":false,"zero":false}},"y":{"datum":0.10223,"axis":null,"scale":{"domain":[0,0.1],"nice":false,"zero":false}}}},
{"data":{"name":"one"},"mark":{"type":"text","text":"10","font":"Liberation Serif","fontSize":52,"align":"left","baseline":"alphabetic","color":"black"},"encoding":{"x":{"datum":0.38938,"axis":null,"scale":{"domain":[0,0.598125],"nice":false,"zero":false}},"y":{"datum":0.10223,"axis":null,"scale":{"domain":[0,0.1],"nice":false,"zero":false}}}},
{"data":{"name":"one"},"mark":{"type":"text","text":"11.5","font":"Liberation Serif","fontSize":40,"align":"left","baseline":"alphabetic","color":"black"},"encoding":{"x":{"datum":0.4225,"axis":null,"scale":{"domain":[0,0.598125],"nice":false,"zero":false}},"y":{"datum":0.10417,"axis":null,"scale":{"domain":[0,0.1],"nice":false,"zero":false}}}},

{"data":{"name":"one"},"mark":{"type":"text","text":"log","font":"Liberation Serif","fontSize":52,"align":"left","baseline":"alphabetic","color":"black"},"encoding":{"x":{"datum":0.2006,"axis":null,"scale":{"domain":[0,0.598125],"nice":false,"zero":false}},"y":{"datum":-0.011165,"axis":null,"scale":{"domain":[0,0.1],"nice":false,"zero":false}}}},
{"data":{"name":"one"},"mark":{"type":"text","text":"(1","font":"Liberation Serif","fontSize":52,"align":"left","baseline":"alphabetic","color":"black"},"encoding":{"x":{"datum":0.25375,"axis":null,"scale":{"domain":[0,0.598125],"nice":false,"zero":false}},"y":{"datum":-0.011165,"axis":null,"scale":{"domain":[0,0.1],"nice":false,"zero":false}}}},
{"data":{"name":"one"},"mark":{"type":"text","text":"+","font":"Liberation Serif","fontSize":56,"align":"center","baseline":"alphabetic","color":"black"},"encoding":{"x":{"datum":0.298,"axis":null,"scale":{"domain":[0,0.598125],"nice":false,"zero":false}},"y":{"datum":-0.011165,"axis":null,"scale":{"domain":[0,0.1],"nice":false,"zero":false}}}},
{"data":{"name":"one"},"mark":{"type":"text","text":"z","font":"Liberation Serif","fontStyle":"italic","fontSize":56,"align":"left","baseline":"alphabetic","color":"black"},"encoding":{"x":{"datum":0.3225,"axis":null,"scale":{"domain":[0,0.598125],"nice":false,"zero":false}},"y":{"datum":-0.011165,"axis":null,"scale":{"domain":[0,0.1],"nice":false,"zero":false}}}},
{"data":{"name":"one"},"mark":{"type":"text","text":"peak","font":"Liberation Serif","fontSize":37,"align":"left","baseline":"alphabetic","color":"black"},"encoding":{"x":{"datum":0.34,"axis":null,"scale":{"domain":[0,0.598125],"nice":false,"zero":false}},"y":{"datum":-0.01194,"axis":null,"scale":{"domain":[0,0.1],"nice":false,"zero":false}}}},
{"data":{"name":"one"},"mark":{"type":"text","text":")","font":"Liberation Serif","fontSize":52,"align":"left","baseline":"alphabetic","color":"black"},"encoding":{"x":{"datum":0.3831,"axis":null,"scale":{"domain":[0,0.598125],"nice":false,"zero":false}},"y":{"datum":-0.011165,"axis":null,"scale":{"domain":[0,0.1],"nice":false,"zero":false}}}},

{"data":{"name":"one"},"mark":{"type":"text","text":"log","font":"Liberation Serif","fontSize":52,"align":"left","baseline":"alphabetic","angle":270,"color":"black"},"encoding":{"x":{"datum":-0.08625,"axis":null,"scale":{"domain":[0,0.598125],"nice":false,"zero":false}},"y":{"datum":0.02738,"axis":null,"scale":{"domain":[0,0.1],"nice":false,"zero":false}}}},
{"data":{"name":"one"},"mark":{"type":"text","text":"M","font":"Liberation Serif","fontStyle":"italic","fontSize":54,"align":"left","baseline":"alphabetic","angle":270,"color":"black"},"encoding":{"x":{"datum":-0.08625,"axis":null,"scale":{"domain":[0,0.598125],"nice":false,"zero":false}},"y":{"datum":0.03524,"axis":null,"scale":{"domain":[0,0.1],"nice":false,"zero":false}}}},
{"data":{"name":"one"},"mark":{"type":"text","text":"gas,peak,0","font":"Liberation Serif","fontSize":37,"align":"left","baseline":"alphabetic","angle":270,"color":"black"},"encoding":{"x":{"datum":-0.0806,"axis":null,"scale":{"domain":[0,0.598125],"nice":false,"zero":false}},"y":{"datum":0.0401,"axis":null,"scale":{"domain":[0,0.1],"nice":false,"zero":false}}}},
{"data":{"name":"one"},"mark":{"type":"text","text":"/","font":"Liberation Serif","fontSize":56,"align":"center","baseline":"alphabetic","angle":270,"color":"black"},"encoding":{"x":{"datum":-0.08625,"axis":null,"scale":{"domain":[0,0.598125],"nice":false,"zero":false}},"y":{"datum":0.05825,"axis":null,"scale":{"domain":[0,0.1],"nice":false,"zero":false}}}},
{"data":{"name":"one"},"mark":{"type":"text","text":"M","font":"Liberation Serif","fontStyle":"italic","fontSize":54,"align":"left","baseline":"alphabetic","angle":270,"color":"black"},"encoding":{"x":{"datum":-0.08625,"axis":null,"scale":{"domain":[0,0.598125],"nice":false,"zero":false}},"y":{"datum":0.06029,"axis":null,"scale":{"domain":[0,0.1],"nice":false,"zero":false}}}},
{"data":{"name":"one"},"mark":{"type":"text","text":"peak","font":"Liberation Serif","fontSize":37,"align":"left","baseline":"alphabetic","angle":270,"color":"black"},"encoding":{"x":{"datum":-0.0806,"axis":null,"scale":{"domain":[0,0.598125],"nice":false,"zero":false}},"y":{"datum":0.06534,"axis":null,"scale":{"domain":[0,0.1],"nice":false,"zero":false}}}},

{"data":{"name":"one"},"mark":{"type":"text","text":"Slow:","font":"Liberation Serif","fontSize":52,"align":"left","baseline":"alphabetic","color":"#008b8b"},"encoding":{"x":{"datum":0.3306,"axis":null,"scale":{"domain":[0,0.598125],"nice":false,"zero":false}},"y":{"datum":0.090777,"axis":null,"scale":{"domain":[0,0.1],"nice":false,"zero":false}}}},
{"data":{"name":"one"},"mark":{"type":"text","text":"a","font":"Liberation Serif","fontStyle":"italic","fontSize":54,"align":"left","baseline":"alphabetic","color":"#008b8b"},"encoding":{"x":{"datum":0.4206,"axis":null,"scale":{"domain":[0,0.598125],"nice":false,"zero":false}},"y":{"datum":0.090777,"axis":null,"scale":{"domain":[0,0.1],"nice":false,"zero":false}}}},
{"data":{"name":"one"},"mark":{"type":"text","text":"nf","font":"Liberation Serif","fontSize":38,"align":"left","baseline":"alphabetic","color":"#008b8b"},"encoding":{"x":{"datum":0.4381,"axis":null,"scale":{"domain":[0,0.598125],"nice":false,"zero":false}},"y":{"datum":0.0901,"axis":null,"scale":{"domain":[0,0.1],"nice":false,"zero":false}}}},
{"data":{"name":"one"},"mark":{"type":"text","text":">","font":"Liberation Serif","fontSize":56,"align":"center","baseline":"alphabetic","color":"#008b8b"},"encoding":{"x":{"datum":0.485,"axis":null,"scale":{"domain":[0,0.598125],"nice":false,"zero":false}},"y":{"datum":0.090777,"axis":null,"scale":{"domain":[0,0.1],"nice":false,"zero":false}}}},
{"data":{"name":"one"},"mark":{"type":"text","text":"1.5","font":"Liberation Serif","fontSize":52,"align":"left","baseline":"alphabetic","color":"#008b8b"},"encoding":{"x":{"datum":0.5094,"axis":null,"scale":{"domain":[0,0.598125],"nice":false,"zero":false}},"y":{"datum":0.090777,"axis":null,"scale":{"domain":[0,0.1],"nice":false,"zero":false}}}},

{"data":{"name":"one"},"mark":{"type":"text","text":"Fast:","font":"Liberation Serif","fontSize":52,"align":"left","baseline":"alphabetic","color":"#ffa500"},"encoding":{"x":{"datum":0.3306,"axis":null,"scale":{"domain":[0,0.598125],"nice":false,"zero":false}},"y":{"datum":0.0809,"axis":null,"scale":{"domain":[0,0.1],"nice":false,"zero":false}}}},
{"data":{"name":"one"},"mark":{"type":"text","text":"a","font":"Liberation Serif","fontStyle":"italic","fontSize":54,"align":"left","baseline":"alphabetic","color":"#ffa500"},"encoding":{"x":{"datum":0.4144,"axis":null,"scale":{"domain":[0,0.598125],"nice":false,"zero":false}},"y":{"datum":0.0809,"axis":null,"scale":{"domain":[0,0.1],"nice":false,"zero":false}}}},
{"data":{"name":"one"},"mark":{"type":"text","text":"nf","font":"Liberation Serif","fontSize":38,"align":"left","baseline":"alphabetic","color":"#ffa500"},"encoding":{"x":{"datum":0.43125,"axis":null,"scale":{"domain":[0,0.598125],"nice":false,"zero":false}},"y":{"datum":0.08027,"axis":null,"scale":{"domain":[0,0.1],"nice":false,"zero":false}}}},
{"data":{"name":"one"},"mark":{"type":"text","text":"<","font":"Liberation Serif","fontSize":56,"align":"center","baseline":"alphabetic","color":"#ffa500"},"encoding":{"x":{"datum":0.4794,"axis":null,"scale":{"domain":[0,0.598125],"nice":false,"zero":false}},"y":{"datum":0.0809,"axis":null,"scale":{"domain":[0,0.1],"nice":false,"zero":false}}}},
{"data":{"name":"one"},"mark":{"type":"text","text":"1.3","font":"Liberation Serif","fontSize":52,"align":"left","baseline":"alphabetic","color":"#ffa500"},"encoding":{"x":{"datum":0.5031,"axis":null,"scale":{"domain":[0,0.598125],"nice":false,"zero":false}},"y":{"datum":0.0809,"axis":null,"scale":{"domain":[0,0.1],"nice":false,"zero":false}}}},

{"data":{"name":"one"},"mark":{"type":"text","text":"Slow","font":"Liberation Serif","fontWeight":"bold","fontSize":86,"align":"center","baseline":"alphabetic","color":"#5e8a4b"},"encoding":{"x":{"datum":0.5141,"axis":null,"scale":{"domain":[0,0.598125],"nice":false,"zero":false}},"y":{"datum":0.04709,"axis":null,"scale":{"domain":[0,0.1],"nice":false,"zero":false}}}},
{"data":{"name":"one"},"mark":{"type":"text","text":"Fast","font":"Liberation Serif","fontWeight":"bold","fontSize":82,"align":"center","baseline":"alphabetic","color":"#d2701f"},"encoding":{"x":{"datum":0.49375,"axis":null,"scale":{"domain":[0,0.598125],"nice":false,"zero":false}},"y":{"datum":0.01197,"axis":null,"scale":{"domain":[0,0.1],"nice":false,"zero":false}}}}
]
}
